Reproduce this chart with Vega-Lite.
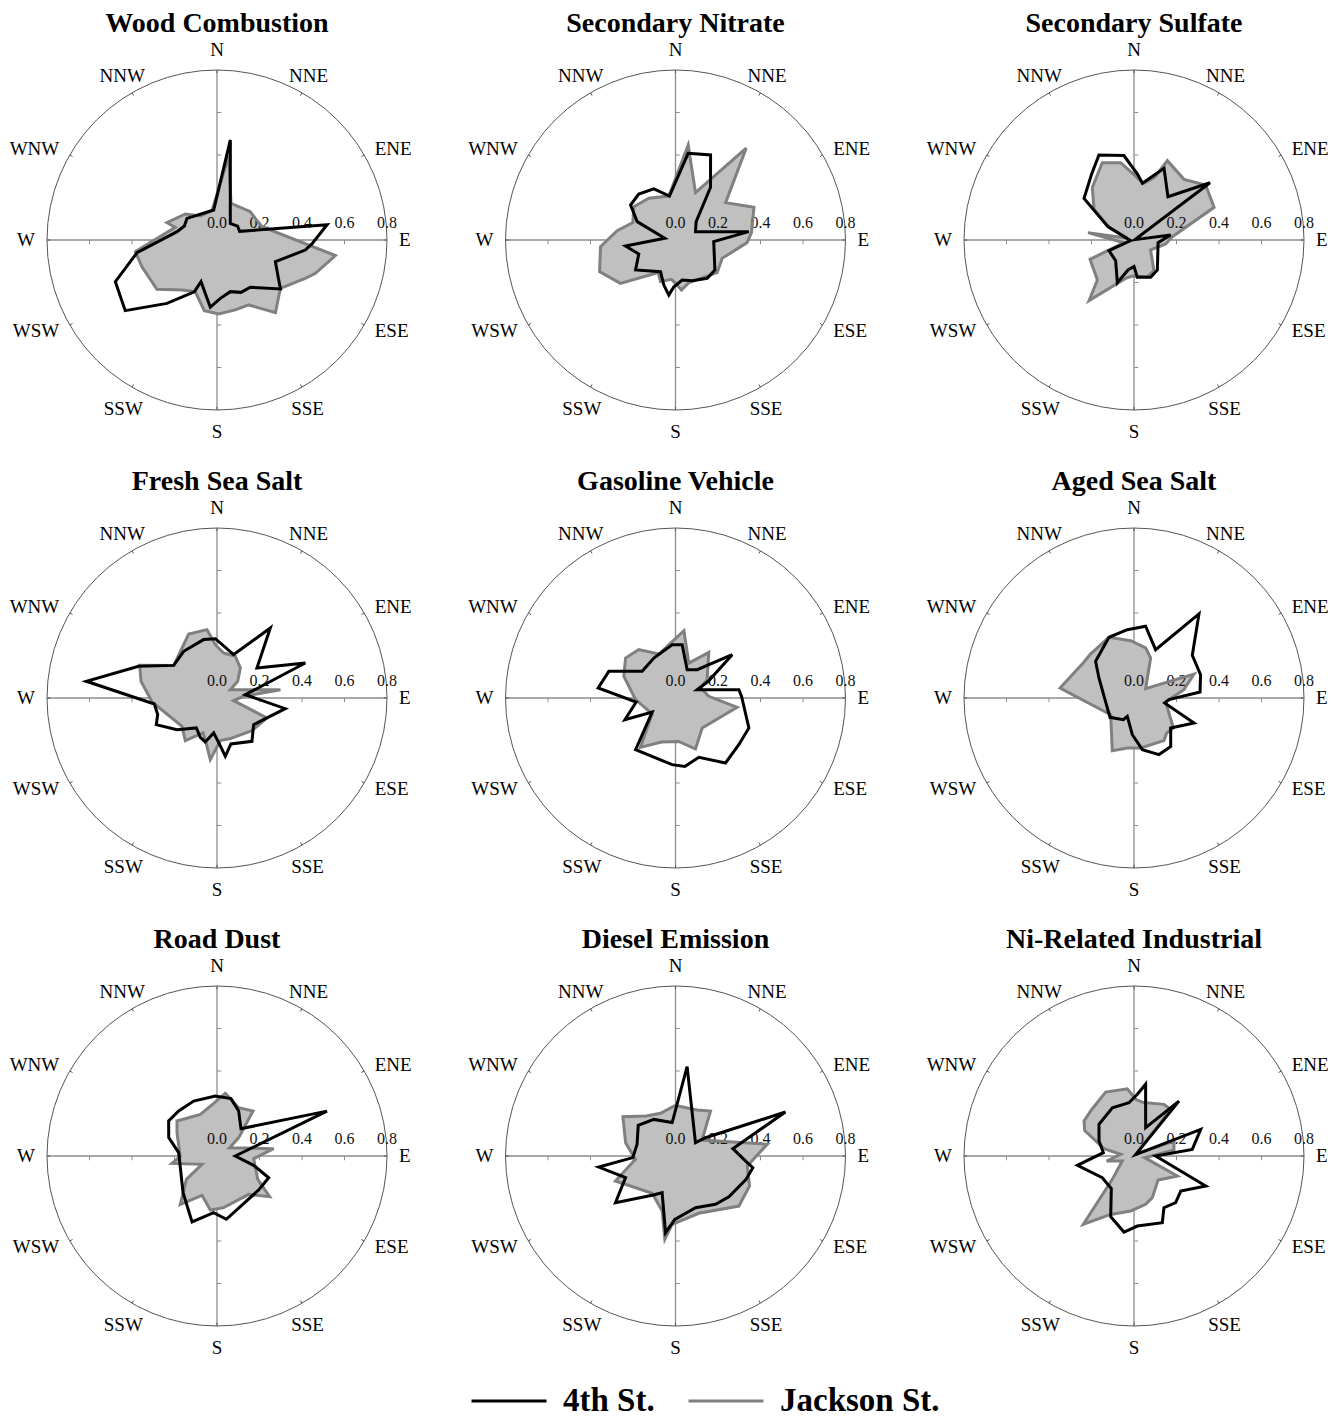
{
"$schema":"https://vega.github.io/schema/vega-lite/v6.json",
"autosize":{"type":"pad"},
"padding":{"left":9,"top":10,"right":0,"bottom":0},
"bounds":"flush",
"columns":3,
"spacing":{"row":62,"column":62.5},
"config":{"view":{"stroke":null},"title":{"font":"Liberation Serif","fontSize":28,"fontWeight":"bold","color":"#000000","offset":3,"anchor":"middle"}},
"datasets":{
"compass":[{"label":"N","dir":0},{"label":"NNE","dir":30},{"label":"ENE","dir":60},{"label":"E","dir":90},{"label":"ESE","dir":120},{"label":"SSE","dir":150},{"label":"S","dir":180},{"label":"SSW","dir":210},{"label":"WSW","dir":240},{"label":"W","dir":270},{"label":"WNW","dir":300},{"label":"NNW","dir":330}],
"ticks":[{"r":-0.6},{"r":-0.4},{"r":-0.2},{"r":0.2},{"r":0.4},{"r":0.6}],
"rings":[{"t":"0.0","r":0},{"t":"0.2","r":0.2},{"t":"0.4","r":0.4},{"t":"0.6","r":0.6},{"t":"0.8","r":0.8}],
"rose":[
{"source":"Wood Combustion","site":"4th St.","dir":7.6,"value":0.475},{"source":"Wood Combustion","site":"4th St.","dir":38.7,"value":0.1},{"source":"Wood Combustion","site":"4th St.","dir":55.9,"value":0.117},{"source":"Wood Combustion","site":"4th St.","dir":69.1,"value":0.114},{"source":"Wood Combustion","site":"4th St.","dir":78,"value":0.241},{"source":"Wood Combustion","site":"4th St.","dir":82.1,"value":0.523},{"source":"Wood Combustion","site":"4th St.","dir":92.4,"value":0.447},{"source":"Wood Combustion","site":"4th St.","dir":96.5,"value":0.418},{"source":"Wood Combustion","site":"4th St.","dir":110.4,"value":0.293},{"source":"Wood Combustion","site":"4th St.","dir":127.7,"value":0.377},{"source":"Wood Combustion","site":"4th St.","dir":144.8,"value":0.272},{"source":"Wood Combustion","site":"4th St.","dir":155.4,"value":0.271},{"source":"Wood Combustion","site":"4th St.","dir":165.5,"value":0.251},{"source":"Wood Combustion","site":"4th St.","dir":176.7,"value":0.275},{"source":"Wood Combustion","site":"4th St.","dir":185.7,"value":0.318},{"source":"Wood Combustion","site":"4th St.","dir":201,"value":0.21},{"source":"Wood Combustion","site":"4th St.","dir":203.7,"value":0.266},{"source":"Wood Combustion","site":"4th St.","dir":218.3,"value":0.38},{"source":"Wood Combustion","site":"4th St.","dir":232.4,"value":0.545},{"source":"Wood Combustion","site":"4th St.","dir":247.7,"value":0.517},{"source":"Wood Combustion","site":"4th St.","dir":261,"value":0.381},{"source":"Wood Combustion","site":"4th St.","dir":281.8,"value":0.192},{"source":"Wood Combustion","site":"4th St.","dir":293.2,"value":0.167},{"source":"Wood Combustion","site":"4th St.","dir":305.8,"value":0.174},{"source":"Wood Combustion","site":"4th St.","dir":353.7,"value":0.142},
{"source":"Wood Combustion","site":"Jackson St.","dir":7.9,"value":0.4},{"source":"Wood Combustion","site":"Jackson St.","dir":20.9,"value":0.185},{"source":"Wood Combustion","site":"Jackson St.","dir":49.6,"value":0.206},{"source":"Wood Combustion","site":"Jackson St.","dir":60.5,"value":0.207},{"source":"Wood Combustion","site":"Jackson St.","dir":73.5,"value":0.221},{"source":"Wood Combustion","site":"Jackson St.","dir":97.5,"value":0.562},{"source":"Wood Combustion","site":"Jackson St.","dir":108.7,"value":0.489},{"source":"Wood Combustion","site":"Jackson St.","dir":113.5,"value":0.453},{"source":"Wood Combustion","site":"Jackson St.","dir":127.3,"value":0.375},{"source":"Wood Combustion","site":"Jackson St.","dir":141.2,"value":0.439},{"source":"Wood Combustion","site":"Jackson St.","dir":154,"value":0.34},{"source":"Wood Combustion","site":"Jackson St.","dir":165.3,"value":0.34},{"source":"Wood Combustion","site":"Jackson St.","dir":178.7,"value":0.348},{"source":"Wood Combustion","site":"Jackson St.","dir":190.2,"value":0.338},{"source":"Wood Combustion","site":"Jackson St.","dir":202.8,"value":0.264},{"source":"Wood Combustion","site":"Jackson St.","dir":215,"value":0.287},{"source":"Wood Combustion","site":"Jackson St.","dir":230.6,"value":0.366},{"source":"Wood Combustion","site":"Jackson St.","dir":250.4,"value":0.375},{"source":"Wood Combustion","site":"Jackson St.","dir":261.9,"value":0.388},{"source":"Wood Combustion","site":"Jackson St.","dir":286.9,"value":0.205},{"source":"Wood Combustion","site":"Jackson St.","dir":289.1,"value":0.249},{"source":"Wood Combustion","site":"Jackson St.","dir":309.4,"value":0.193},{"source":"Wood Combustion","site":"Jackson St.","dir":325.2,"value":0.138},{"source":"Wood Combustion","site":"Jackson St.","dir":350.3,"value":0.14},
{"source":"Secondary Nitrate","site":"4th St.","dir":8.3,"value":0.412},{"source":"Secondary Nitrate","site":"4th St.","dir":22.4,"value":0.433},{"source":"Secondary Nitrate","site":"4th St.","dir":33.6,"value":0.298},{"source":"Secondary Nitrate","site":"4th St.","dir":48.4,"value":0.13},{"source":"Secondary Nitrate","site":"4th St.","dir":67.4,"value":0.102},{"source":"Secondary Nitrate","site":"4th St.","dir":83.5,"value":0.347},{"source":"Secondary Nitrate","site":"4th St.","dir":92.5,"value":0.18},{"source":"Secondary Nitrate","site":"4th St.","dir":127.3,"value":0.233},{"source":"Secondary Nitrate","site":"4th St.","dir":140.4,"value":0.234},{"source":"Secondary Nitrate","site":"4th St.","dir":157.7,"value":0.207},{"source":"Secondary Nitrate","site":"4th St.","dir":170.5,"value":0.191},{"source":"Secondary Nitrate","site":"4th St.","dir":182,"value":0.22},{"source":"Secondary Nitrate","site":"4th St.","dir":186.9,"value":0.261},{"source":"Secondary Nitrate","site":"4th St.","dir":194.5,"value":0.219},{"source":"Secondary Nitrate","site":"4th St.","dir":205.3,"value":0.165},{"source":"Secondary Nitrate","site":"4th St.","dir":233.1,"value":0.235},{"source":"Secondary Nitrate","site":"4th St.","dir":249.1,"value":0.185},{"source":"Secondary Nitrate","site":"4th St.","dir":263.2,"value":0.237},{"source":"Secondary Nitrate","site":"4th St.","dir":278.9,"value":0.051},{"source":"Secondary Nitrate","site":"4th St.","dir":295.6,"value":0.2},{"source":"Secondary Nitrate","site":"4th St.","dir":307.9,"value":0.268},{"source":"Secondary Nitrate","site":"4th St.","dir":321.4,"value":0.277},{"source":"Secondary Nitrate","site":"4th St.","dir":337,"value":0.261},{"source":"Secondary Nitrate","site":"4th St.","dir":352.2,"value":0.209},
{"source":"Secondary Nitrate","site":"Jackson St.","dir":7.6,"value":0.451},{"source":"Secondary Nitrate","site":"Jackson St.","dir":22.9,"value":0.242},{"source":"Secondary Nitrate","site":"Jackson St.","dir":37.6,"value":0.545},{"source":"Secondary Nitrate","site":"Jackson St.","dir":53.3,"value":0.294},{"source":"Secondary Nitrate","site":"Jackson St.","dir":67.4,"value":0.4},{"source":"Secondary Nitrate","site":"Jackson St.","dir":84.5,"value":0.359},{"source":"Secondary Nitrate","site":"Jackson St.","dir":92.1,"value":0.337},{"source":"Secondary Nitrate","site":"Jackson St.","dir":111.4,"value":0.236},{"source":"Secondary Nitrate","site":"Jackson St.","dir":128.1,"value":0.249},{"source":"Secondary Nitrate","site":"Jackson St.","dir":162.6,"value":0.21},{"source":"Secondary Nitrate","site":"Jackson St.","dir":173.2,"value":0.237},{"source":"Secondary Nitrate","site":"Jackson St.","dir":180,"value":0.204},{"source":"Secondary Nitrate","site":"Jackson St.","dir":185.8,"value":0.186},{"source":"Secondary Nitrate","site":"Jackson St.","dir":199.8,"value":0.208},{"source":"Secondary Nitrate","site":"Jackson St.","dir":207.9,"value":0.174},{"source":"Secondary Nitrate","site":"Jackson St.","dir":231.8,"value":0.33},{"source":"Secondary Nitrate","site":"Jackson St.","dir":247.4,"value":0.387},{"source":"Secondary Nitrate","site":"Jackson St.","dir":265,"value":0.354},{"source":"Secondary Nitrate","site":"Jackson St.","dir":279.1,"value":0.278},{"source":"Secondary Nitrate","site":"Jackson St.","dir":292.1,"value":0.217},{"source":"Secondary Nitrate","site":"Jackson St.","dir":308.7,"value":0.251},{"source":"Secondary Nitrate","site":"Jackson St.","dir":327.4,"value":0.233},{"source":"Secondary Nitrate","site":"Jackson St.","dir":351.4,"value":0.209},
{"source":"Secondary Sulfate","site":"4th St.","dir":3.5,"value":0.307},{"source":"Secondary Sulfate","site":"4th St.","dir":8.4,"value":0.27},{"source":"Secondary Sulfate","site":"4th St.","dir":22.7,"value":0.366},{"source":"Secondary Sulfate","site":"4th St.","dir":38.1,"value":0.259},{"source":"Secondary Sulfate","site":"4th St.","dir":53,"value":0.448},{"source":"Secondary Sulfate","site":"4th St.","dir":70,"value":0.005},{"source":"Secondary Sulfate","site":"4th St.","dir":82.2,"value":0.174},{"source":"Secondary Sulfate","site":"4th St.","dir":96.3,"value":0.114},{"source":"Secondary Sulfate","site":"4th St.","dir":142.1,"value":0.179},{"source":"Secondary Sulfate","site":"4th St.","dir":155.9,"value":0.192},{"source":"Secondary Sulfate","site":"4th St.","dir":174.9,"value":0.176},{"source":"Secondary Sulfate","site":"4th St.","dir":180,"value":0.125},{"source":"Secondary Sulfate","site":"4th St.","dir":191.3,"value":0.144},{"source":"Secondary Sulfate","site":"4th St.","dir":201.3,"value":0.216},{"source":"Secondary Sulfate","site":"4th St.","dir":221.6,"value":0.13},{"source":"Secondary Sulfate","site":"4th St.","dir":246.9,"value":0.128},{"source":"Secondary Sulfate","site":"4th St.","dir":259,"value":0.016},{"source":"Secondary Sulfate","site":"4th St.","dir":297.1,"value":0.138},{"source":"Secondary Sulfate","site":"4th St.","dir":309.8,"value":0.306},{"source":"Secondary Sulfate","site":"4th St.","dir":326.7,"value":0.366},{"source":"Secondary Sulfate","site":"4th St.","dir":337.6,"value":0.433},{"source":"Secondary Sulfate","site":"4th St.","dir":353.2,"value":0.4},
{"source":"Secondary Sulfate","site":"Jackson St.","dir":1.5,"value":0.301},{"source":"Secondary Sulfate","site":"Jackson St.","dir":9.4,"value":0.27},{"source":"Secondary Sulfate","site":"Jackson St.","dir":18.3,"value":0.311},{"source":"Secondary Sulfate","site":"Jackson St.","dir":22.8,"value":0.405},{"source":"Secondary Sulfate","site":"Jackson St.","dir":39.5,"value":0.37},{"source":"Secondary Sulfate","site":"Jackson St.","dir":52.5,"value":0.425},{"source":"Secondary Sulfate","site":"Jackson St.","dir":67.8,"value":0.407},{"source":"Secondary Sulfate","site":"Jackson St.","dir":85,"value":0.181},{"source":"Secondary Sulfate","site":"Jackson St.","dir":97.2,"value":0.15},{"source":"Secondary Sulfate","site":"Jackson St.","dir":121,"value":0.091},{"source":"Secondary Sulfate","site":"Jackson St.","dir":146.9,"value":0.172},{"source":"Secondary Sulfate","site":"Jackson St.","dir":160,"value":0.184},{"source":"Secondary Sulfate","site":"Jackson St.","dir":182.7,"value":0.17},{"source":"Secondary Sulfate","site":"Jackson St.","dir":192.3,"value":0.185},{"source":"Secondary Sulfate","site":"Jackson St.","dir":216.6,"value":0.355},{"source":"Secondary Sulfate","site":"Jackson St.","dir":222.5,"value":0.255},{"source":"Secondary Sulfate","site":"Jackson St.","dir":246.3,"value":0.226},{"source":"Secondary Sulfate","site":"Jackson St.","dir":255,"value":0.049},{"source":"Secondary Sulfate","site":"Jackson St.","dir":279.1,"value":0.219},{"source":"Secondary Sulfate","site":"Jackson St.","dir":284,"value":0.032},{"source":"Secondary Sulfate","site":"Jackson St.","dir":296.9,"value":0.132},{"source":"Secondary Sulfate","site":"Jackson St.","dir":307.5,"value":0.237},{"source":"Secondary Sulfate","site":"Jackson St.","dir":321.6,"value":0.316},{"source":"Secondary Sulfate","site":"Jackson St.","dir":337.7,"value":0.393},{"source":"Secondary Sulfate","site":"Jackson St.","dir":350.2,"value":0.369},
{"source":"Fresh Sea Salt","site":"4th St.","dir":21,"value":0.219},{"source":"Fresh Sea Salt","site":"4th St.","dir":37.3,"value":0.414},{"source":"Fresh Sea Salt","site":"4th St.","dir":53.1,"value":0.235},{"source":"Fresh Sea Salt","site":"4th St.","dir":68.4,"value":0.447},{"source":"Fresh Sea Salt","site":"4th St.","dir":83.3,"value":0.134},{"source":"Fresh Sea Salt","site":"4th St.","dir":98.9,"value":0.325},{"source":"Fresh Sea Salt","site":"4th St.","dir":126,"value":0.213},{"source":"Fresh Sea Salt","site":"4th St.","dir":141.1,"value":0.262},{"source":"Fresh Sea Salt","site":"4th St.","dir":163.1,"value":0.226},{"source":"Fresh Sea Salt","site":"4th St.","dir":171.9,"value":0.277},{"source":"Fresh Sea Salt","site":"4th St.","dir":176.7,"value":0.22},{"source":"Fresh Sea Salt","site":"4th St.","dir":185.4,"value":0.165},{"source":"Fresh Sea Salt","site":"4th St.","dir":194.9,"value":0.214},{"source":"Fresh Sea Salt","site":"4th St.","dir":203,"value":0.201},{"source":"Fresh Sea Salt","site":"4th St.","dir":214.6,"value":0.171},{"source":"Fresh Sea Salt","site":"4th St.","dir":231.6,"value":0.24},{"source":"Fresh Sea Salt","site":"4th St.","dir":246.3,"value":0.312},{"source":"Fresh Sea Salt","site":"4th St.","dir":254.3,"value":0.29},{"source":"Fresh Sea Salt","site":"4th St.","dir":264.5,"value":0.296},{"source":"Fresh Sea Salt","site":"4th St.","dir":277.3,"value":0.62},{"source":"Fresh Sea Salt","site":"4th St.","dir":292,"value":0.398},{"source":"Fresh Sea Salt","site":"4th St.","dir":307,"value":0.255},{"source":"Fresh Sea Salt","site":"4th St.","dir":324.5,"value":0.27},{"source":"Fresh Sea Salt","site":"4th St.","dir":347.1,"value":0.282},{"source":"Fresh Sea Salt","site":"4th St.","dir":358.4,"value":0.279},
{"source":"Fresh Sea Salt","site":"Jackson St.","dir":8.4,"value":0.214},{"source":"Fresh Sea Salt","site":"Jackson St.","dir":23.7,"value":0.214},{"source":"Fresh Sea Salt","site":"Jackson St.","dir":37.9,"value":0.179},{"source":"Fresh Sea Salt","site":"Jackson St.","dir":51.1,"value":0.125},{"source":"Fresh Sea Salt","site":"Jackson St.","dir":58,"value":0.074},{"source":"Fresh Sea Salt","site":"Jackson St.","dir":82.5,"value":0.301},{"source":"Fresh Sea Salt","site":"Jackson St.","dir":86.4,"value":0.126},{"source":"Fresh Sea Salt","site":"Jackson St.","dir":99.1,"value":0.079},{"source":"Fresh Sea Salt","site":"Jackson St.","dir":111.8,"value":0.253},{"source":"Fresh Sea Salt","site":"Jackson St.","dir":133,"value":0.225},{"source":"Fresh Sea Salt","site":"Jackson St.","dir":161.8,"value":0.201},{"source":"Fresh Sea Salt","site":"Jackson St.","dir":175.5,"value":0.201},{"source":"Fresh Sea Salt","site":"Jackson St.","dir":186.2,"value":0.292},{"source":"Fresh Sea Salt","site":"Jackson St.","dir":193.1,"value":0.222},{"source":"Fresh Sea Salt","site":"Jackson St.","dir":201.8,"value":0.177},{"source":"Fresh Sea Salt","site":"Jackson St.","dir":216.6,"value":0.25},{"source":"Fresh Sea Salt","site":"Jackson St.","dir":231,"value":0.212},{"source":"Fresh Sea Salt","site":"Jackson St.","dir":266.5,"value":0.306},{"source":"Fresh Sea Salt","site":"Jackson St.","dir":282.4,"value":0.366},{"source":"Fresh Sea Salt","site":"Jackson St.","dir":292.9,"value":0.395},{"source":"Fresh Sea Salt","site":"Jackson St.","dir":307,"value":0.255},{"source":"Fresh Sea Salt","site":"Jackson St.","dir":336.1,"value":0.329},{"source":"Fresh Sea Salt","site":"Jackson St.","dir":351.7,"value":0.325},{"source":"Fresh Sea Salt","site":"Jackson St.","dir":358.2,"value":0.251},
{"source":"Gasoline Vehicle","site":"4th St.","dir":7.1,"value":0.253},{"source":"Gasoline Vehicle","site":"4th St.","dir":22.4,"value":0.144},{"source":"Gasoline Vehicle","site":"4th St.","dir":37.4,"value":0.168},{"source":"Gasoline Vehicle","site":"4th St.","dir":52.6,"value":0.336},{"source":"Gasoline Vehicle","site":"4th St.","dir":63,"value":0.173},{"source":"Gasoline Vehicle","site":"4th St.","dir":69,"value":0.109},{"source":"Gasoline Vehicle","site":"4th St.","dir":82.5,"value":0.301},{"source":"Gasoline Vehicle","site":"4th St.","dir":88.6,"value":0.311},{"source":"Gasoline Vehicle","site":"4th St.","dir":112.2,"value":0.373},{"source":"Gasoline Vehicle","site":"4th St.","dir":126.4,"value":0.37},{"source":"Gasoline Vehicle","site":"4th St.","dir":142.4,"value":0.386},{"source":"Gasoline Vehicle","site":"4th St.","dir":158.5,"value":0.3},{"source":"Gasoline Vehicle","site":"4th St.","dir":172.2,"value":0.325},{"source":"Gasoline Vehicle","site":"4th St.","dir":182.9,"value":0.314},{"source":"Gasoline Vehicle","site":"4th St.","dir":217.7,"value":0.307},{"source":"Gasoline Vehicle","site":"4th St.","dir":239,"value":0.128},{"source":"Gasoline Vehicle","site":"4th St.","dir":246.8,"value":0.259},{"source":"Gasoline Vehicle","site":"4th St.","dir":264.2,"value":0.186},{"source":"Gasoline Vehicle","site":"4th St.","dir":277.4,"value":0.367},{"source":"Gasoline Vehicle","site":"4th St.","dir":291.8,"value":0.338},{"source":"Gasoline Vehicle","site":"4th St.","dir":308.7,"value":0.201},{"source":"Gasoline Vehicle","site":"4th St.","dir":331.6,"value":0.214},{"source":"Gasoline Vehicle","site":"4th St.","dir":356.4,"value":0.251},
{"source":"Gasoline Vehicle","site":"Jackson St.","dir":7.1,"value":0.319},{"source":"Gasoline Vehicle","site":"Jackson St.","dir":20.9,"value":0.176},{"source":"Gasoline Vehicle","site":"Jackson St.","dir":36.1,"value":0.266},{"source":"Gasoline Vehicle","site":"Jackson St.","dir":59.9,"value":0.172},{"source":"Gasoline Vehicle","site":"Jackson St.","dir":68.2,"value":0.127},{"source":"Gasoline Vehicle","site":"Jackson St.","dir":87.1,"value":0.157},{"source":"Gasoline Vehicle","site":"Jackson St.","dir":98.6,"value":0.293},{"source":"Gasoline Vehicle","site":"Jackson St.","dir":138.4,"value":0.189},{"source":"Gasoline Vehicle","site":"Jackson St.","dir":158.6,"value":0.258},{"source":"Gasoline Vehicle","site":"Jackson St.","dir":175.6,"value":0.205},{"source":"Gasoline Vehicle","site":"Jackson St.","dir":197.7,"value":0.217},{"source":"Gasoline Vehicle","site":"Jackson St.","dir":215.4,"value":0.285},{"source":"Gasoline Vehicle","site":"Jackson St.","dir":235.6,"value":0.133},{"source":"Gasoline Vehicle","site":"Jackson St.","dir":267.6,"value":0.188},{"source":"Gasoline Vehicle","site":"Jackson St.","dir":292.8,"value":0.264},{"source":"Gasoline Vehicle","site":"Jackson St.","dir":308.7,"value":0.301},{"source":"Gasoline Vehicle","site":"Jackson St.","dir":322.8,"value":0.286},{"source":"Gasoline Vehicle","site":"Jackson St.","dir":339.3,"value":0.221},
{"source":"Aged Sea Salt","site":"4th St.","dir":9.2,"value":0.342},{"source":"Aged Sea Salt","site":"4th St.","dir":24.1,"value":0.249},{"source":"Aged Sea Salt","site":"4th St.","dir":37.7,"value":0.5},{"source":"Aged Sea Salt","site":"4th St.","dir":53.8,"value":0.34},{"source":"Aged Sea Salt","site":"4th St.","dir":70.7,"value":0.332},{"source":"Aged Sea Salt","site":"4th St.","dir":84.8,"value":0.312},{"source":"Aged Sea Salt","site":"4th St.","dir":92.7,"value":0.165},{"source":"Aged Sea Salt","site":"4th St.","dir":99.3,"value":0.146},{"source":"Aged Sea Salt","site":"4th St.","dir":112.6,"value":0.306},{"source":"Aged Sea Salt","site":"4th St.","dir":129.3,"value":0.223},{"source":"Aged Sea Salt","site":"4th St.","dir":142.8,"value":0.286},{"source":"Aged Sea Salt","site":"4th St.","dir":156.2,"value":0.291},{"source":"Aged Sea Salt","site":"4th St.","dir":170.8,"value":0.246},{"source":"Aged Sea Salt","site":"4th St.","dir":182.6,"value":0.173},{"source":"Aged Sea Salt","site":"4th St.","dir":200,"value":0.092},{"source":"Aged Sea Salt","site":"4th St.","dir":206.2,"value":0.114},{"source":"Aged Sea Salt","site":"4th St.","dir":231.1,"value":0.145},{"source":"Aged Sea Salt","site":"4th St.","dir":273.2,"value":0.141},{"source":"Aged Sea Salt","site":"4th St.","dir":299.7,"value":0.19},{"source":"Aged Sea Salt","site":"4th St.","dir":313.7,"value":0.25},{"source":"Aged Sea Salt","site":"4th St.","dir":337.6,"value":0.309},{"source":"Aged Sea Salt","site":"4th St.","dir":354.4,"value":0.323},
{"source":"Aged Sea Salt","site":"Jackson St.","dir":13.1,"value":0.242},{"source":"Aged Sea Salt","site":"Jackson St.","dir":22.6,"value":0.204},{"source":"Aged Sea Salt","site":"Jackson St.","dir":51.3,"value":0.07},{"source":"Aged Sea Salt","site":"Jackson St.","dir":68.2,"value":0.304},{"source":"Aged Sea Salt","site":"Jackson St.","dir":80.5,"value":0.238},{"source":"Aged Sea Salt","site":"Jackson St.","dir":97.2,"value":0.15},{"source":"Aged Sea Salt","site":"Jackson St.","dir":127.3,"value":0.233},{"source":"Aged Sea Salt","site":"Jackson St.","dir":137,"value":0.225},{"source":"Aged Sea Salt","site":"Jackson St.","dir":144.9,"value":0.245},{"source":"Aged Sea Salt","site":"Jackson St.","dir":172.4,"value":0.237},{"source":"Aged Sea Salt","site":"Jackson St.","dir":187.6,"value":0.237},{"source":"Aged Sea Salt","site":"Jackson St.","dir":202.4,"value":0.268},{"source":"Aged Sea Salt","site":"Jackson St.","dir":234.5,"value":0.135},{"source":"Aged Sea Salt","site":"Jackson St.","dir":277.7,"value":0.351},{"source":"Aged Sea Salt","site":"Jackson St.","dir":305.8,"value":0.29},{"source":"Aged Sea Salt","site":"Jackson St.","dir":314.6,"value":0.291},{"source":"Aged Sea Salt","site":"Jackson St.","dir":337.6,"value":0.309},{"source":"Aged Sea Salt","site":"Jackson St.","dir":356.7,"value":0.27},
{"source":"Road Dust","site":"4th St.","dir":13.7,"value":0.278},{"source":"Road Dust","site":"4th St.","dir":25.7,"value":0.235},{"source":"Road Dust","site":"4th St.","dir":41.3,"value":0.171},{"source":"Road Dust","site":"4th St.","dir":67.8,"value":0.559},{"source":"Road Dust","site":"4th St.","dir":90,"value":0.086},{"source":"Road Dust","site":"4th St.","dir":104.3,"value":0.178},{"source":"Road Dust","site":"4th St.","dir":112.8,"value":0.264},{"source":"Road Dust","site":"4th St.","dir":129.2,"value":0.253},{"source":"Road Dust","site":"4th St.","dir":171.6,"value":0.301},{"source":"Road Dust","site":"4th St.","dir":183.4,"value":0.267},{"source":"Road Dust","site":"4th St.","dir":200.7,"value":0.332},{"source":"Road Dust","site":"4th St.","dir":222.8,"value":0.235},{"source":"Road Dust","site":"4th St.","dir":252.4,"value":0.181},{"source":"Road Dust","site":"4th St.","dir":275,"value":0.181},{"source":"Road Dust","site":"4th St.","dir":290.8,"value":0.243},{"source":"Road Dust","site":"4th St.","dir":305.9,"value":0.281},{"source":"Road Dust","site":"4th St.","dir":319.6,"value":0.278},{"source":"Road Dust","site":"4th St.","dir":337,"value":0.281},{"source":"Road Dust","site":"4th St.","dir":358.4,"value":0.282},
{"source":"Road Dust","site":"Jackson St.","dir":7.6,"value":0.298},{"source":"Road Dust","site":"Jackson St.","dir":24.1,"value":0.249},{"source":"Road Dust","site":"Jackson St.","dir":38.7,"value":0.271},{"source":"Road Dust","site":"Jackson St.","dir":49.8,"value":0.134},{"source":"Road Dust","site":"Jackson St.","dir":56.7,"value":0.071},{"source":"Road Dust","site":"Jackson St.","dir":82.6,"value":0.269},{"source":"Road Dust","site":"Jackson St.","dir":94.2,"value":0.173},{"source":"Road Dust","site":"Jackson St.","dir":119.8,"value":0.221},{"source":"Road Dust","site":"Jackson St.","dir":127.7,"value":0.313},{"source":"Road Dust","site":"Jackson St.","dir":140.4,"value":0.234},{"source":"Road Dust","site":"Jackson St.","dir":172.6,"value":0.245},{"source":"Road Dust","site":"Jackson St.","dir":187,"value":0.256},{"source":"Road Dust","site":"Jackson St.","dir":200.9,"value":0.198},{"source":"Road Dust","site":"Jackson St.","dir":217.2,"value":0.286},{"source":"Road Dust","site":"Jackson St.","dir":232.7,"value":0.181},{"source":"Road Dust","site":"Jackson St.","dir":240.9,"value":0.081},{"source":"Road Dust","site":"Jackson St.","dir":260.7,"value":0.215},{"source":"Road Dust","site":"Jackson St.","dir":269,"value":0.173},{"source":"Road Dust","site":"Jackson St.","dir":300.3,"value":0.218},{"source":"Road Dust","site":"Jackson St.","dir":311.2,"value":0.25},{"source":"Road Dust","site":"Jackson St.","dir":338.2,"value":0.211},{"source":"Road Dust","site":"Jackson St.","dir":356.4,"value":0.248},
{"source":"Diesel Emission","site":"4th St.","dir":7.4,"value":0.424},{"source":"Diesel Emission","site":"4th St.","dir":56.3,"value":0.113},{"source":"Diesel Emission","site":"4th St.","dir":58.6,"value":0.165},{"source":"Diesel Emission","site":"4th St.","dir":68.2,"value":0.557},{"source":"Diesel Emission","site":"4th St.","dir":82.7,"value":0.272},{"source":"Diesel Emission","site":"4th St.","dir":95.3,"value":0.339},{"source":"Diesel Emission","site":"4th St.","dir":98.6,"value":0.368},{"source":"Diesel Emission","site":"4th St.","dir":108.3,"value":0.35},{"source":"Diesel Emission","site":"4th St.","dir":127.3,"value":0.316},{"source":"Diesel Emission","site":"4th St.","dir":140.4,"value":0.295},{"source":"Diesel Emission","site":"4th St.","dir":158.8,"value":0.261},{"source":"Diesel Emission","site":"4th St.","dir":180.6,"value":0.298},{"source":"Diesel Emission","site":"4th St.","dir":187.4,"value":0.364},{"source":"Diesel Emission","site":"4th St.","dir":200,"value":0.184},{"source":"Diesel Emission","site":"4th St.","dir":210.7,"value":0.215},{"source":"Diesel Emission","site":"4th St.","dir":232.1,"value":0.358},{"source":"Diesel Emission","site":"4th St.","dir":246.6,"value":0.256},{"source":"Diesel Emission","site":"4th St.","dir":261.8,"value":0.365},{"source":"Diesel Emission","site":"4th St.","dir":267.8,"value":0.201},{"source":"Diesel Emission","site":"4th St.","dir":286.9,"value":0.189},{"source":"Diesel Emission","site":"4th St.","dir":309.4,"value":0.227},{"source":"Diesel Emission","site":"4th St.","dir":329.4,"value":0.2},{"source":"Diesel Emission","site":"4th St.","dir":354.3,"value":0.158},
{"source":"Diesel Emission","site":"Jackson St.","dir":0,"value":0.238},{"source":"Diesel Emission","site":"Jackson St.","dir":25.2,"value":0.239},{"source":"Diesel Emission","site":"Jackson St.","dir":37.9,"value":0.268},{"source":"Diesel Emission","site":"Jackson St.","dir":59,"value":0.146},{"source":"Diesel Emission","site":"Jackson St.","dir":82.7,"value":0.435},{"source":"Diesel Emission","site":"Jackson St.","dir":97.9,"value":0.341},{"source":"Diesel Emission","site":"Jackson St.","dir":112.1,"value":0.376},{"source":"Diesel Emission","site":"Jackson St.","dir":128.3,"value":0.38},{"source":"Diesel Emission","site":"Jackson St.","dir":157.9,"value":0.291},{"source":"Diesel Emission","site":"Jackson St.","dir":182.8,"value":0.322},{"source":"Diesel Emission","site":"Jackson St.","dir":187.3,"value":0.395},{"source":"Diesel Emission","site":"Jackson St.","dir":193.6,"value":0.266},{"source":"Diesel Emission","site":"Jackson St.","dir":212,"value":0.207},{"source":"Diesel Emission","site":"Jackson St.","dir":247.4,"value":0.306},{"source":"Diesel Emission","site":"Jackson St.","dir":265.2,"value":0.189},{"source":"Diesel Emission","site":"Jackson St.","dir":284.9,"value":0.243},{"source":"Diesel Emission","site":"Jackson St.","dir":306.8,"value":0.309},{"source":"Diesel Emission","site":"Jackson St.","dir":323.7,"value":0.233},{"source":"Diesel Emission","site":"Jackson St.","dir":340.6,"value":0.213},
{"source":"Ni-Related Industrial","site":"4th St.","dir":3.1,"value":0.291},{"source":"Ni-Related Industrial","site":"4th St.","dir":9.2,"value":0.342},{"source":"Ni-Related Industrial","site":"4th St.","dir":22.4,"value":0.144},{"source":"Ni-Related Industrial","site":"4th St.","dir":39.3,"value":0.334},{"source":"Ni-Related Industrial","site":"4th St.","dir":50,"value":0.01},{"source":"Ni-Related Industrial","site":"4th St.","dir":68.2,"value":0.338},{"source":"Ni-Related Industrial","site":"4th St.","dir":83.5,"value":0.276},{"source":"Ni-Related Industrial","site":"4th St.","dir":90,"value":0.102},{"source":"Ni-Related Industrial","site":"4th St.","dir":112.7,"value":0.366},{"source":"Ni-Related Industrial","site":"4th St.","dir":126.9,"value":0.275},{"source":"Ni-Related Industrial","site":"4th St.","dir":138.2,"value":0.294},{"source":"Ni-Related Industrial","site":"4th St.","dir":149.9,"value":0.281},{"source":"Ni-Related Industrial","site":"4th St.","dir":157,"value":0.341},{"source":"Ni-Related Industrial","site":"4th St.","dir":177.3,"value":0.33},{"source":"Ni-Related Industrial","site":"4th St.","dir":187.5,"value":0.361},{"source":"Ni-Related Industrial","site":"4th St.","dir":201,"value":0.306},{"source":"Ni-Related Industrial","site":"4th St.","dir":214.8,"value":0.187},{"source":"Ni-Related Industrial","site":"4th St.","dir":235.6,"value":0.181},{"source":"Ni-Related Industrial","site":"4th St.","dir":260.6,"value":0.27},{"source":"Ni-Related Industrial","site":"4th St.","dir":276.2,"value":0.145},{"source":"Ni-Related Industrial","site":"4th St.","dir":293.2,"value":0.179},{"source":"Ni-Related Industrial","site":"4th St.","dir":312.1,"value":0.222},{"source":"Ni-Related Industrial","site":"4th St.","dir":335.9,"value":0.249},{"source":"Ni-Related Industrial","site":"4th St.","dir":354.6,"value":0.252},
{"source":"Ni-Related Industrial","site":"Jackson St.","dir":1.7,"value":0.267},{"source":"Ni-Related Industrial","site":"Jackson St.","dir":9.9,"value":0.255},{"source":"Ni-Related Industrial","site":"Jackson St.","dir":30.1,"value":0.281},{"source":"Ni-Related Industrial","site":"Jackson St.","dir":38.2,"value":0.279},{"source":"Ni-Related Industrial","site":"Jackson St.","dir":50,"value":0.015},{"source":"Ni-Related Industrial","site":"Jackson St.","dir":69.4,"value":0.201},{"source":"Ni-Related Industrial","site":"Jackson St.","dir":81.5,"value":0.19},{"source":"Ni-Related Industrial","site":"Jackson St.","dir":98.9,"value":0.051},{"source":"Ni-Related Industrial","site":"Jackson St.","dir":114.8,"value":0.225},{"source":"Ni-Related Industrial","site":"Jackson St.","dir":135,"value":0.16},{"source":"Ni-Related Industrial","site":"Jackson St.","dir":156.3,"value":0.214},{"source":"Ni-Related Industrial","site":"Jackson St.","dir":166.4,"value":0.234},{"source":"Ni-Related Industrial","site":"Jackson St.","dir":183.5,"value":0.259},{"source":"Ni-Related Industrial","site":"Jackson St.","dir":201.8,"value":0.296},{"source":"Ni-Related Industrial","site":"Jackson St.","dir":216.6,"value":0.4},{"source":"Ni-Related Industrial","site":"Jackson St.","dir":222.9,"value":0.15},{"source":"Ni-Related Industrial","site":"Jackson St.","dir":246.8,"value":0.06},{"source":"Ni-Related Industrial","site":"Jackson St.","dir":259.6,"value":0.131},{"source":"Ni-Related Industrial","site":"Jackson St.","dir":277.1,"value":0.063},{"source":"Ni-Related Industrial","site":"Jackson St.","dir":283.7,"value":0.145},{"source":"Ni-Related Industrial","site":"Jackson St.","dir":297.2,"value":0.261},{"source":"Ni-Related Industrial","site":"Jackson St.","dir":305,"value":0.287},{"source":"Ni-Related Industrial","site":"Jackson St.","dir":317.2,"value":0.295},{"source":"Ni-Related Industrial","site":"Jackson St.","dir":336.1,"value":0.329},{"source":"Ni-Related Industrial","site":"Jackson St.","dir":354.3,"value":0.318}
]},
"concat":[
{"title":"Wood Combustion","width":396,"height":396,"layer":[
{"data":{"values":[{"c":0}]},"mark":{"type":"point","shape":"circle","size":115600,"filled":false,"stroke":"#555555","strokeWidth":1,"opacity":1},"encoding":{"x":{"field":"c","type":"quantitative","scale":{"domain":[-0.93176,0.93176],"nice":false,"zero":false},"axis":null},"y":{"field":"c","type":"quantitative","scale":{"domain":[-0.93176,0.93176],"nice":false,"zero":false},"axis":null}}},
{"data":{"values":[{"a":-0.8,"b":0.8,"c":0}]},"mark":{"type":"rule","stroke":"#8c8c8c","strokeWidth":1.3},"encoding":{"x":{"field":"a","type":"quantitative","scale":{"domain":[-0.93176,0.93176],"nice":false,"zero":false},"axis":null},"x2":{"field":"b"},"y":{"field":"c","type":"quantitative","scale":{"domain":[-0.93176,0.93176],"nice":false,"zero":false},"axis":null}}},
{"data":{"values":[{"a":-0.8,"b":0.8,"c":0}]},"mark":{"type":"rule","stroke":"#8c8c8c","strokeWidth":1.3},"encoding":{"y":{"field":"a","type":"quantitative","scale":{"domain":[-0.93176,0.93176],"nice":false,"zero":false},"axis":null},"y2":{"field":"b"},"x":{"field":"c","type":"quantitative","scale":{"domain":[-0.93176,0.93176],"nice":false,"zero":false},"axis":null}}},
{"data":{"name":"ticks"},"mark":{"type":"rule","stroke":"#8c8c8c","strokeWidth":1},"encoding":{"x":{"field":"r","type":"quantitative","scale":{"domain":[-0.93176,0.93176],"nice":false,"zero":false},"axis":null},"y":{"datum":0,"type":"quantitative","scale":{"domain":[-0.93176,0.93176],"nice":false,"zero":false},"axis":null},"y2":{"datum":-0.02}}},
{"data":{"name":"ticks"},"mark":{"type":"rule","stroke":"#8c8c8c","strokeWidth":1},"encoding":{"y":{"field":"r","type":"quantitative","scale":{"domain":[-0.93176,0.93176],"nice":false,"zero":false},"axis":null},"x":{"datum":0,"type":"quantitative","scale":{"domain":[-0.93176,0.93176],"nice":false,"zero":false},"axis":null},"x2":{"datum":0.02}}},
{"data":{"name":"compass"},"transform":[{"calculate":"0.785*sin(datum.dir*PI/180)","as":"xa"},{"calculate":"0.785*cos(datum.dir*PI/180)","as":"ya"},{"calculate":"0.8*sin(datum.dir*PI/180)","as":"xb"},{"calculate":"0.8*cos(datum.dir*PI/180)","as":"yb"}],"mark":{"type":"rule","stroke":"#555555","strokeWidth":1},"encoding":{"x":{"field":"xa","type":"quantitative","scale":{"domain":[-0.93176,0.93176],"nice":false,"zero":false},"axis":null},"y":{"field":"ya","type":"quantitative","scale":{"domain":[-0.93176,0.93176],"nice":false,"zero":false},"axis":null},"x2":{"field":"xb"},"y2":{"field":"yb"}}},
{"data":{"name":"rose"},"transform":[{"filter":"datum.source==='Wood Combustion' && datum.site==='Jackson St.'"},{"calculate":"datum.value*sin(datum.dir*PI/180)","as":"x"},{"calculate":"datum.value*cos(datum.dir*PI/180)","as":"y"}],"mark":{"type":"line","interpolate":"linear-closed","fill":"#c0c0c0","stroke":"#c0c0c0","strokeWidth":0.5},"encoding":{"x":{"field":"x","type":"quantitative","scale":{"domain":[-0.93176,0.93176],"nice":false,"zero":false},"axis":null},"y":{"field":"y","type":"quantitative","scale":{"domain":[-0.93176,0.93176],"nice":false,"zero":false},"axis":null},"order":{"field":"dir","type":"quantitative"}}},
{"data":{"name":"rings"},"mark":{"type":"text","font":"Liberation Serif","fontSize":16,"dy":-12,"baseline":"alphabetic","align":"center","color":"#111111"},"encoding":{"x":{"field":"r","type":"quantitative","scale":{"domain":[-0.93176,0.93176],"nice":false,"zero":false},"axis":null},"y":{"datum":0,"type":"quantitative","scale":{"domain":[-0.93176,0.93176],"nice":false,"zero":false},"axis":null},"text":{"field":"t"}}},
{"data":{"name":"rose"},"transform":[{"filter":"datum.source==='Wood Combustion' && datum.site==='Jackson St.'"},{"calculate":"datum.value*sin(datum.dir*PI/180)","as":"x"},{"calculate":"datum.value*cos(datum.dir*PI/180)","as":"y"}],"mark":{"type":"line","interpolate":"linear-closed","strokeWidth":3},"encoding":{"x":{"field":"x","type":"quantitative","scale":{"domain":[-0.93176,0.93176],"nice":false,"zero":false},"axis":null},"y":{"field":"y","type":"quantitative","scale":{"domain":[-0.93176,0.93176],"nice":false,"zero":false},"axis":null},"order":{"field":"dir","type":"quantitative"},"color":{"field":"site","type":"nominal","title":null,"scale":{"domain":["4th St.","Jackson St."],"range":["#000000","#808080"]},"legend":{"orient":"none","legendX":451,"legendY":1320,"direction":"horizontal","symbolType":"stroke","symbolSize":5625,"symbolStrokeWidth":3,"labelFont":"Liberation Serif","labelFontSize":33,"labelFontWeight":"bold","labelColor":"#000000","labelOffset":15,"columnPadding":27,"padding":0,"labelLimit":400}}}},
{"data":{"name":"rose"},"transform":[{"filter":"datum.source==='Wood Combustion' && datum.site==='4th St.'"},{"calculate":"datum.value*sin(datum.dir*PI/180)","as":"x"},{"calculate":"datum.value*cos(datum.dir*PI/180)","as":"y"}],"mark":{"type":"line","interpolate":"linear-closed","strokeWidth":3},"encoding":{"x":{"field":"x","type":"quantitative","scale":{"domain":[-0.93176,0.93176],"nice":false,"zero":false},"axis":null},"y":{"field":"y","type":"quantitative","scale":{"domain":[-0.93176,0.93176],"nice":false,"zero":false},"axis":null},"order":{"field":"dir","type":"quantitative"},"color":{"field":"site","type":"nominal","title":null,"scale":{"domain":["4th St.","Jackson St."],"range":["#000000","#808080"]},"legend":{"orient":"none","legendX":451,"legendY":1320,"direction":"horizontal","symbolType":"stroke","symbolSize":5625,"symbolStrokeWidth":3,"labelFont":"Liberation Serif","labelFontSize":33,"labelFontWeight":"bold","labelColor":"#000000","labelOffset":15,"columnPadding":27,"padding":0,"labelLimit":400}}}},
{"data":{"name":"compass"},"transform":[{"filter":"datum.dir==0||datum.dir==180"},{"calculate":"datum.dir==0?0.894:0.905","as":"rr"},{"calculate":"datum.rr*sin(datum.dir*PI/180)","as":"x"},{"calculate":"datum.rr*cos(datum.dir*PI/180)","as":"y"}],"mark":{"type":"text","font":"Liberation Serif","fontSize":19,"baseline":"middle","align":"center","color":"#000000"},"encoding":{"x":{"field":"x","type":"quantitative","scale":{"domain":[-0.93176,0.93176],"nice":false,"zero":false},"axis":null},"y":{"field":"y","type":"quantitative","scale":{"domain":[-0.93176,0.93176],"nice":false,"zero":false},"axis":null},"text":{"field":"label"}}},
{"data":{"name":"compass"},"transform":[{"filter":"datum.dir>0&&datum.dir<180"},{"calculate":"(datum.dir==30||datum.dir==330)?0.843:((datum.dir==150||datum.dir==210)?0.868:0.857)","as":"rr"},{"calculate":"datum.dir%180==30?datum.dir-6.3:(datum.dir%180==150?datum.dir+6.3:datum.dir)","as":"aa"},{"calculate":"datum.rr*sin(datum.aa*PI/180)","as":"x"},{"calculate":"datum.rr*cos(datum.aa*PI/180)","as":"y"}],"mark":{"type":"text","font":"Liberation Serif","fontSize":19,"baseline":"middle","align":"left","color":"#000000"},"encoding":{"x":{"field":"x","type":"quantitative","scale":{"domain":[-0.93176,0.93176],"nice":false,"zero":false},"axis":null},"y":{"field":"y","type":"quantitative","scale":{"domain":[-0.93176,0.93176],"nice":false,"zero":false},"axis":null},"text":{"field":"label"}}},
{"data":{"name":"compass"},"transform":[{"filter":"datum.dir>180"},{"calculate":"(datum.dir==30||datum.dir==330)?0.843:((datum.dir==150||datum.dir==210)?0.868:0.857)","as":"rr"},{"calculate":"datum.dir%180==30?datum.dir-6.3:(datum.dir%180==150?datum.dir+6.3:datum.dir)","as":"aa"},{"calculate":"datum.rr*sin(datum.aa*PI/180)","as":"x"},{"calculate":"datum.rr*cos(datum.aa*PI/180)","as":"y"}],"mark":{"type":"text","font":"Liberation Serif","fontSize":19,"baseline":"middle","align":"right","color":"#000000"},"encoding":{"x":{"field":"x","type":"quantitative","scale":{"domain":[-0.93176,0.93176],"nice":false,"zero":false},"axis":null},"y":{"field":"y","type":"quantitative","scale":{"domain":[-0.93176,0.93176],"nice":false,"zero":false},"axis":null},"text":{"field":"label"}}}
]},
{"title":"Secondary Nitrate","width":396,"height":396,"layer":[
{"data":{"values":[{"c":0}]},"mark":{"type":"point","shape":"circle","size":115600,"filled":false,"stroke":"#555555","strokeWidth":1,"opacity":1},"encoding":{"x":{"field":"c","type":"quantitative","scale":{"domain":[-0.93176,0.93176],"nice":false,"zero":false},"axis":null},"y":{"field":"c","type":"quantitative","scale":{"domain":[-0.93176,0.93176],"nice":false,"zero":false},"axis":null}}},
{"data":{"values":[{"a":-0.8,"b":0.8,"c":0}]},"mark":{"type":"rule","stroke":"#8c8c8c","strokeWidth":1.3},"encoding":{"x":{"field":"a","type":"quantitative","scale":{"domain":[-0.93176,0.93176],"nice":false,"zero":false},"axis":null},"x2":{"field":"b"},"y":{"field":"c","type":"quantitative","scale":{"domain":[-0.93176,0.93176],"nice":false,"zero":false},"axis":null}}},
{"data":{"values":[{"a":-0.8,"b":0.8,"c":0}]},"mark":{"type":"rule","stroke":"#8c8c8c","strokeWidth":1.3},"encoding":{"y":{"field":"a","type":"quantitative","scale":{"domain":[-0.93176,0.93176],"nice":false,"zero":false},"axis":null},"y2":{"field":"b"},"x":{"field":"c","type":"quantitative","scale":{"domain":[-0.93176,0.93176],"nice":false,"zero":false},"axis":null}}},
{"data":{"name":"ticks"},"mark":{"type":"rule","stroke":"#8c8c8c","strokeWidth":1},"encoding":{"x":{"field":"r","type":"quantitative","scale":{"domain":[-0.93176,0.93176],"nice":false,"zero":false},"axis":null},"y":{"datum":0,"type":"quantitative","scale":{"domain":[-0.93176,0.93176],"nice":false,"zero":false},"axis":null},"y2":{"datum":-0.02}}},
{"data":{"name":"ticks"},"mark":{"type":"rule","stroke":"#8c8c8c","strokeWidth":1},"encoding":{"y":{"field":"r","type":"quantitative","scale":{"domain":[-0.93176,0.93176],"nice":false,"zero":false},"axis":null},"x":{"datum":0,"type":"quantitative","scale":{"domain":[-0.93176,0.93176],"nice":false,"zero":false},"axis":null},"x2":{"datum":0.02}}},
{"data":{"name":"compass"},"transform":[{"calculate":"0.785*sin(datum.dir*PI/180)","as":"xa"},{"calculate":"0.785*cos(datum.dir*PI/180)","as":"ya"},{"calculate":"0.8*sin(datum.dir*PI/180)","as":"xb"},{"calculate":"0.8*cos(datum.dir*PI/180)","as":"yb"}],"mark":{"type":"rule","stroke":"#555555","strokeWidth":1},"encoding":{"x":{"field":"xa","type":"quantitative","scale":{"domain":[-0.93176,0.93176],"nice":false,"zero":false},"axis":null},"y":{"field":"ya","type":"quantitative","scale":{"domain":[-0.93176,0.93176],"nice":false,"zero":false},"axis":null},"x2":{"field":"xb"},"y2":{"field":"yb"}}},
{"data":{"name":"rose"},"transform":[{"filter":"datum.source==='Secondary Nitrate' && datum.site==='Jackson St.'"},{"calculate":"datum.value*sin(datum.dir*PI/180)","as":"x"},{"calculate":"datum.value*cos(datum.dir*PI/180)","as":"y"}],"mark":{"type":"line","interpolate":"linear-closed","fill":"#c0c0c0","stroke":"#c0c0c0","strokeWidth":0.5},"encoding":{"x":{"field":"x","type":"quantitative","scale":{"domain":[-0.93176,0.93176],"nice":false,"zero":false},"axis":null},"y":{"field":"y","type":"quantitative","scale":{"domain":[-0.93176,0.93176],"nice":false,"zero":false},"axis":null},"order":{"field":"dir","type":"quantitative"}}},
{"data":{"name":"rings"},"mark":{"type":"text","font":"Liberation Serif","fontSize":16,"dy":-12,"baseline":"alphabetic","align":"center","color":"#111111"},"encoding":{"x":{"field":"r","type":"quantitative","scale":{"domain":[-0.93176,0.93176],"nice":false,"zero":false},"axis":null},"y":{"datum":0,"type":"quantitative","scale":{"domain":[-0.93176,0.93176],"nice":false,"zero":false},"axis":null},"text":{"field":"t"}}},
{"data":{"name":"rose"},"transform":[{"filter":"datum.source==='Secondary Nitrate' && datum.site==='Jackson St.'"},{"calculate":"datum.value*sin(datum.dir*PI/180)","as":"x"},{"calculate":"datum.value*cos(datum.dir*PI/180)","as":"y"}],"mark":{"type":"line","interpolate":"linear-closed","strokeWidth":3},"encoding":{"x":{"field":"x","type":"quantitative","scale":{"domain":[-0.93176,0.93176],"nice":false,"zero":false},"axis":null},"y":{"field":"y","type":"quantitative","scale":{"domain":[-0.93176,0.93176],"nice":false,"zero":false},"axis":null},"order":{"field":"dir","type":"quantitative"},"color":{"field":"site","type":"nominal","title":null,"scale":{"domain":["4th St.","Jackson St."],"range":["#000000","#808080"]},"legend":{"orient":"none","legendX":451,"legendY":1320,"direction":"horizontal","symbolType":"stroke","symbolSize":5625,"symbolStrokeWidth":3,"labelFont":"Liberation Serif","labelFontSize":33,"labelFontWeight":"bold","labelColor":"#000000","labelOffset":15,"columnPadding":27,"padding":0,"labelLimit":400}}}},
{"data":{"name":"rose"},"transform":[{"filter":"datum.source==='Secondary Nitrate' && datum.site==='4th St.'"},{"calculate":"datum.value*sin(datum.dir*PI/180)","as":"x"},{"calculate":"datum.value*cos(datum.dir*PI/180)","as":"y"}],"mark":{"type":"line","interpolate":"linear-closed","strokeWidth":3},"encoding":{"x":{"field":"x","type":"quantitative","scale":{"domain":[-0.93176,0.93176],"nice":false,"zero":false},"axis":null},"y":{"field":"y","type":"quantitative","scale":{"domain":[-0.93176,0.93176],"nice":false,"zero":false},"axis":null},"order":{"field":"dir","type":"quantitative"},"color":{"field":"site","type":"nominal","title":null,"scale":{"domain":["4th St.","Jackson St."],"range":["#000000","#808080"]},"legend":{"orient":"none","legendX":451,"legendY":1320,"direction":"horizontal","symbolType":"stroke","symbolSize":5625,"symbolStrokeWidth":3,"labelFont":"Liberation Serif","labelFontSize":33,"labelFontWeight":"bold","labelColor":"#000000","labelOffset":15,"columnPadding":27,"padding":0,"labelLimit":400}}}},
{"data":{"name":"compass"},"transform":[{"filter":"datum.dir==0||datum.dir==180"},{"calculate":"datum.dir==0?0.894:0.905","as":"rr"},{"calculate":"datum.rr*sin(datum.dir*PI/180)","as":"x"},{"calculate":"datum.rr*cos(datum.dir*PI/180)","as":"y"}],"mark":{"type":"text","font":"Liberation Serif","fontSize":19,"baseline":"middle","align":"center","color":"#000000"},"encoding":{"x":{"field":"x","type":"quantitative","scale":{"domain":[-0.93176,0.93176],"nice":false,"zero":false},"axis":null},"y":{"field":"y","type":"quantitative","scale":{"domain":[-0.93176,0.93176],"nice":false,"zero":false},"axis":null},"text":{"field":"label"}}},
{"data":{"name":"compass"},"transform":[{"filter":"datum.dir>0&&datum.dir<180"},{"calculate":"(datum.dir==30||datum.dir==330)?0.843:((datum.dir==150||datum.dir==210)?0.868:0.857)","as":"rr"},{"calculate":"datum.dir%180==30?datum.dir-6.3:(datum.dir%180==150?datum.dir+6.3:datum.dir)","as":"aa"},{"calculate":"datum.rr*sin(datum.aa*PI/180)","as":"x"},{"calculate":"datum.rr*cos(datum.aa*PI/180)","as":"y"}],"mark":{"type":"text","font":"Liberation Serif","fontSize":19,"baseline":"middle","align":"left","color":"#000000"},"encoding":{"x":{"field":"x","type":"quantitative","scale":{"domain":[-0.93176,0.93176],"nice":false,"zero":false},"axis":null},"y":{"field":"y","type":"quantitative","scale":{"domain":[-0.93176,0.93176],"nice":false,"zero":false},"axis":null},"text":{"field":"label"}}},
{"data":{"name":"compass"},"transform":[{"filter":"datum.dir>180"},{"calculate":"(datum.dir==30||datum.dir==330)?0.843:((datum.dir==150||datum.dir==210)?0.868:0.857)","as":"rr"},{"calculate":"datum.dir%180==30?datum.dir-6.3:(datum.dir%180==150?datum.dir+6.3:datum.dir)","as":"aa"},{"calculate":"datum.rr*sin(datum.aa*PI/180)","as":"x"},{"calculate":"datum.rr*cos(datum.aa*PI/180)","as":"y"}],"mark":{"type":"text","font":"Liberation Serif","fontSize":19,"baseline":"middle","align":"right","color":"#000000"},"encoding":{"x":{"field":"x","type":"quantitative","scale":{"domain":[-0.93176,0.93176],"nice":false,"zero":false},"axis":null},"y":{"field":"y","type":"quantitative","scale":{"domain":[-0.93176,0.93176],"nice":false,"zero":false},"axis":null},"text":{"field":"label"}}}
]},
{"title":"Secondary Sulfate","width":396,"height":396,"layer":[
{"data":{"values":[{"c":0}]},"mark":{"type":"point","shape":"circle","size":115600,"filled":false,"stroke":"#555555","strokeWidth":1,"opacity":1},"encoding":{"x":{"field":"c","type":"quantitative","scale":{"domain":[-0.93176,0.93176],"nice":false,"zero":false},"axis":null},"y":{"field":"c","type":"quantitative","scale":{"domain":[-0.93176,0.93176],"nice":false,"zero":false},"axis":null}}},
{"data":{"values":[{"a":-0.8,"b":0.8,"c":0}]},"mark":{"type":"rule","stroke":"#8c8c8c","strokeWidth":1.3},"encoding":{"x":{"field":"a","type":"quantitative","scale":{"domain":[-0.93176,0.93176],"nice":false,"zero":false},"axis":null},"x2":{"field":"b"},"y":{"field":"c","type":"quantitative","scale":{"domain":[-0.93176,0.93176],"nice":false,"zero":false},"axis":null}}},
{"data":{"values":[{"a":-0.8,"b":0.8,"c":0}]},"mark":{"type":"rule","stroke":"#8c8c8c","strokeWidth":1.3},"encoding":{"y":{"field":"a","type":"quantitative","scale":{"domain":[-0.93176,0.93176],"nice":false,"zero":false},"axis":null},"y2":{"field":"b"},"x":{"field":"c","type":"quantitative","scale":{"domain":[-0.93176,0.93176],"nice":false,"zero":false},"axis":null}}},
{"data":{"name":"ticks"},"mark":{"type":"rule","stroke":"#8c8c8c","strokeWidth":1},"encoding":{"x":{"field":"r","type":"quantitative","scale":{"domain":[-0.93176,0.93176],"nice":false,"zero":false},"axis":null},"y":{"datum":0,"type":"quantitative","scale":{"domain":[-0.93176,0.93176],"nice":false,"zero":false},"axis":null},"y2":{"datum":-0.02}}},
{"data":{"name":"ticks"},"mark":{"type":"rule","stroke":"#8c8c8c","strokeWidth":1},"encoding":{"y":{"field":"r","type":"quantitative","scale":{"domain":[-0.93176,0.93176],"nice":false,"zero":false},"axis":null},"x":{"datum":0,"type":"quantitative","scale":{"domain":[-0.93176,0.93176],"nice":false,"zero":false},"axis":null},"x2":{"datum":0.02}}},
{"data":{"name":"compass"},"transform":[{"calculate":"0.785*sin(datum.dir*PI/180)","as":"xa"},{"calculate":"0.785*cos(datum.dir*PI/180)","as":"ya"},{"calculate":"0.8*sin(datum.dir*PI/180)","as":"xb"},{"calculate":"0.8*cos(datum.dir*PI/180)","as":"yb"}],"mark":{"type":"rule","stroke":"#555555","strokeWidth":1},"encoding":{"x":{"field":"xa","type":"quantitative","scale":{"domain":[-0.93176,0.93176],"nice":false,"zero":false},"axis":null},"y":{"field":"ya","type":"quantitative","scale":{"domain":[-0.93176,0.93176],"nice":false,"zero":false},"axis":null},"x2":{"field":"xb"},"y2":{"field":"yb"}}},
{"data":{"name":"rose"},"transform":[{"filter":"datum.source==='Secondary Sulfate' && datum.site==='Jackson St.'"},{"calculate":"datum.value*sin(datum.dir*PI/180)","as":"x"},{"calculate":"datum.value*cos(datum.dir*PI/180)","as":"y"}],"mark":{"type":"line","interpolate":"linear-closed","fill":"#c0c0c0","stroke":"#c0c0c0","strokeWidth":0.5},"encoding":{"x":{"field":"x","type":"quantitative","scale":{"domain":[-0.93176,0.93176],"nice":false,"zero":false},"axis":null},"y":{"field":"y","type":"quantitative","scale":{"domain":[-0.93176,0.93176],"nice":false,"zero":false},"axis":null},"order":{"field":"dir","type":"quantitative"}}},
{"data":{"name":"rings"},"mark":{"type":"text","font":"Liberation Serif","fontSize":16,"dy":-12,"baseline":"alphabetic","align":"center","color":"#111111"},"encoding":{"x":{"field":"r","type":"quantitative","scale":{"domain":[-0.93176,0.93176],"nice":false,"zero":false},"axis":null},"y":{"datum":0,"type":"quantitative","scale":{"domain":[-0.93176,0.93176],"nice":false,"zero":false},"axis":null},"text":{"field":"t"}}},
{"data":{"name":"rose"},"transform":[{"filter":"datum.source==='Secondary Sulfate' && datum.site==='Jackson St.'"},{"calculate":"datum.value*sin(datum.dir*PI/180)","as":"x"},{"calculate":"datum.value*cos(datum.dir*PI/180)","as":"y"}],"mark":{"type":"line","interpolate":"linear-closed","strokeWidth":3},"encoding":{"x":{"field":"x","type":"quantitative","scale":{"domain":[-0.93176,0.93176],"nice":false,"zero":false},"axis":null},"y":{"field":"y","type":"quantitative","scale":{"domain":[-0.93176,0.93176],"nice":false,"zero":false},"axis":null},"order":{"field":"dir","type":"quantitative"},"color":{"field":"site","type":"nominal","title":null,"scale":{"domain":["4th St.","Jackson St."],"range":["#000000","#808080"]},"legend":{"orient":"none","legendX":451,"legendY":1320,"direction":"horizontal","symbolType":"stroke","symbolSize":5625,"symbolStrokeWidth":3,"labelFont":"Liberation Serif","labelFontSize":33,"labelFontWeight":"bold","labelColor":"#000000","labelOffset":15,"columnPadding":27,"padding":0,"labelLimit":400}}}},
{"data":{"name":"rose"},"transform":[{"filter":"datum.source==='Secondary Sulfate' && datum.site==='4th St.'"},{"calculate":"datum.value*sin(datum.dir*PI/180)","as":"x"},{"calculate":"datum.value*cos(datum.dir*PI/180)","as":"y"}],"mark":{"type":"line","interpolate":"linear-closed","strokeWidth":3},"encoding":{"x":{"field":"x","type":"quantitative","scale":{"domain":[-0.93176,0.93176],"nice":false,"zero":false},"axis":null},"y":{"field":"y","type":"quantitative","scale":{"domain":[-0.93176,0.93176],"nice":false,"zero":false},"axis":null},"order":{"field":"dir","type":"quantitative"},"color":{"field":"site","type":"nominal","title":null,"scale":{"domain":["4th St.","Jackson St."],"range":["#000000","#808080"]},"legend":{"orient":"none","legendX":451,"legendY":1320,"direction":"horizontal","symbolType":"stroke","symbolSize":5625,"symbolStrokeWidth":3,"labelFont":"Liberation Serif","labelFontSize":33,"labelFontWeight":"bold","labelColor":"#000000","labelOffset":15,"columnPadding":27,"padding":0,"labelLimit":400}}}},
{"data":{"name":"compass"},"transform":[{"filter":"datum.dir==0||datum.dir==180"},{"calculate":"datum.dir==0?0.894:0.905","as":"rr"},{"calculate":"datum.rr*sin(datum.dir*PI/180)","as":"x"},{"calculate":"datum.rr*cos(datum.dir*PI/180)","as":"y"}],"mark":{"type":"text","font":"Liberation Serif","fontSize":19,"baseline":"middle","align":"center","color":"#000000"},"encoding":{"x":{"field":"x","type":"quantitative","scale":{"domain":[-0.93176,0.93176],"nice":false,"zero":false},"axis":null},"y":{"field":"y","type":"quantitative","scale":{"domain":[-0.93176,0.93176],"nice":false,"zero":false},"axis":null},"text":{"field":"label"}}},
{"data":{"name":"compass"},"transform":[{"filter":"datum.dir>0&&datum.dir<180"},{"calculate":"(datum.dir==30||datum.dir==330)?0.843:((datum.dir==150||datum.dir==210)?0.868:0.857)","as":"rr"},{"calculate":"datum.dir%180==30?datum.dir-6.3:(datum.dir%180==150?datum.dir+6.3:datum.dir)","as":"aa"},{"calculate":"datum.rr*sin(datum.aa*PI/180)","as":"x"},{"calculate":"datum.rr*cos(datum.aa*PI/180)","as":"y"}],"mark":{"type":"text","font":"Liberation Serif","fontSize":19,"baseline":"middle","align":"left","color":"#000000"},"encoding":{"x":{"field":"x","type":"quantitative","scale":{"domain":[-0.93176,0.93176],"nice":false,"zero":false},"axis":null},"y":{"field":"y","type":"quantitative","scale":{"domain":[-0.93176,0.93176],"nice":false,"zero":false},"axis":null},"text":{"field":"label"}}},
{"data":{"name":"compass"},"transform":[{"filter":"datum.dir>180"},{"calculate":"(datum.dir==30||datum.dir==330)?0.843:((datum.dir==150||datum.dir==210)?0.868:0.857)","as":"rr"},{"calculate":"datum.dir%180==30?datum.dir-6.3:(datum.dir%180==150?datum.dir+6.3:datum.dir)","as":"aa"},{"calculate":"datum.rr*sin(datum.aa*PI/180)","as":"x"},{"calculate":"datum.rr*cos(datum.aa*PI/180)","as":"y"}],"mark":{"type":"text","font":"Liberation Serif","fontSize":19,"baseline":"middle","align":"right","color":"#000000"},"encoding":{"x":{"field":"x","type":"quantitative","scale":{"domain":[-0.93176,0.93176],"nice":false,"zero":false},"axis":null},"y":{"field":"y","type":"quantitative","scale":{"domain":[-0.93176,0.93176],"nice":false,"zero":false},"axis":null},"text":{"field":"label"}}}
]},
{"title":"Fresh Sea Salt","width":396,"height":396,"layer":[
{"data":{"values":[{"c":0}]},"mark":{"type":"point","shape":"circle","size":115600,"filled":false,"stroke":"#555555","strokeWidth":1,"opacity":1},"encoding":{"x":{"field":"c","type":"quantitative","scale":{"domain":[-0.93176,0.93176],"nice":false,"zero":false},"axis":null},"y":{"field":"c","type":"quantitative","scale":{"domain":[-0.93176,0.93176],"nice":false,"zero":false},"axis":null}}},
{"data":{"values":[{"a":-0.8,"b":0.8,"c":0}]},"mark":{"type":"rule","stroke":"#8c8c8c","strokeWidth":1.3},"encoding":{"x":{"field":"a","type":"quantitative","scale":{"domain":[-0.93176,0.93176],"nice":false,"zero":false},"axis":null},"x2":{"field":"b"},"y":{"field":"c","type":"quantitative","scale":{"domain":[-0.93176,0.93176],"nice":false,"zero":false},"axis":null}}},
{"data":{"values":[{"a":-0.8,"b":0.8,"c":0}]},"mark":{"type":"rule","stroke":"#8c8c8c","strokeWidth":1.3},"encoding":{"y":{"field":"a","type":"quantitative","scale":{"domain":[-0.93176,0.93176],"nice":false,"zero":false},"axis":null},"y2":{"field":"b"},"x":{"field":"c","type":"quantitative","scale":{"domain":[-0.93176,0.93176],"nice":false,"zero":false},"axis":null}}},
{"data":{"name":"ticks"},"mark":{"type":"rule","stroke":"#8c8c8c","strokeWidth":1},"encoding":{"x":{"field":"r","type":"quantitative","scale":{"domain":[-0.93176,0.93176],"nice":false,"zero":false},"axis":null},"y":{"datum":0,"type":"quantitative","scale":{"domain":[-0.93176,0.93176],"nice":false,"zero":false},"axis":null},"y2":{"datum":-0.02}}},
{"data":{"name":"ticks"},"mark":{"type":"rule","stroke":"#8c8c8c","strokeWidth":1},"encoding":{"y":{"field":"r","type":"quantitative","scale":{"domain":[-0.93176,0.93176],"nice":false,"zero":false},"axis":null},"x":{"datum":0,"type":"quantitative","scale":{"domain":[-0.93176,0.93176],"nice":false,"zero":false},"axis":null},"x2":{"datum":0.02}}},
{"data":{"name":"compass"},"transform":[{"calculate":"0.785*sin(datum.dir*PI/180)","as":"xa"},{"calculate":"0.785*cos(datum.dir*PI/180)","as":"ya"},{"calculate":"0.8*sin(datum.dir*PI/180)","as":"xb"},{"calculate":"0.8*cos(datum.dir*PI/180)","as":"yb"}],"mark":{"type":"rule","stroke":"#555555","strokeWidth":1},"encoding":{"x":{"field":"xa","type":"quantitative","scale":{"domain":[-0.93176,0.93176],"nice":false,"zero":false},"axis":null},"y":{"field":"ya","type":"quantitative","scale":{"domain":[-0.93176,0.93176],"nice":false,"zero":false},"axis":null},"x2":{"field":"xb"},"y2":{"field":"yb"}}},
{"data":{"name":"rose"},"transform":[{"filter":"datum.source==='Fresh Sea Salt' && datum.site==='Jackson St.'"},{"calculate":"datum.value*sin(datum.dir*PI/180)","as":"x"},{"calculate":"datum.value*cos(datum.dir*PI/180)","as":"y"}],"mark":{"type":"line","interpolate":"linear-closed","fill":"#c0c0c0","stroke":"#c0c0c0","strokeWidth":0.5},"encoding":{"x":{"field":"x","type":"quantitative","scale":{"domain":[-0.93176,0.93176],"nice":false,"zero":false},"axis":null},"y":{"field":"y","type":"quantitative","scale":{"domain":[-0.93176,0.93176],"nice":false,"zero":false},"axis":null},"order":{"field":"dir","type":"quantitative"}}},
{"data":{"name":"rings"},"mark":{"type":"text","font":"Liberation Serif","fontSize":16,"dy":-12,"baseline":"alphabetic","align":"center","color":"#111111"},"encoding":{"x":{"field":"r","type":"quantitative","scale":{"domain":[-0.93176,0.93176],"nice":false,"zero":false},"axis":null},"y":{"datum":0,"type":"quantitative","scale":{"domain":[-0.93176,0.93176],"nice":false,"zero":false},"axis":null},"text":{"field":"t"}}},
{"data":{"name":"rose"},"transform":[{"filter":"datum.source==='Fresh Sea Salt' && datum.site==='Jackson St.'"},{"calculate":"datum.value*sin(datum.dir*PI/180)","as":"x"},{"calculate":"datum.value*cos(datum.dir*PI/180)","as":"y"}],"mark":{"type":"line","interpolate":"linear-closed","strokeWidth":3},"encoding":{"x":{"field":"x","type":"quantitative","scale":{"domain":[-0.93176,0.93176],"nice":false,"zero":false},"axis":null},"y":{"field":"y","type":"quantitative","scale":{"domain":[-0.93176,0.93176],"nice":false,"zero":false},"axis":null},"order":{"field":"dir","type":"quantitative"},"color":{"field":"site","type":"nominal","title":null,"scale":{"domain":["4th St.","Jackson St."],"range":["#000000","#808080"]},"legend":{"orient":"none","legendX":451,"legendY":1320,"direction":"horizontal","symbolType":"stroke","symbolSize":5625,"symbolStrokeWidth":3,"labelFont":"Liberation Serif","labelFontSize":33,"labelFontWeight":"bold","labelColor":"#000000","labelOffset":15,"columnPadding":27,"padding":0,"labelLimit":400}}}},
{"data":{"name":"rose"},"transform":[{"filter":"datum.source==='Fresh Sea Salt' && datum.site==='4th St.'"},{"calculate":"datum.value*sin(datum.dir*PI/180)","as":"x"},{"calculate":"datum.value*cos(datum.dir*PI/180)","as":"y"}],"mark":{"type":"line","interpolate":"linear-closed","strokeWidth":3},"encoding":{"x":{"field":"x","type":"quantitative","scale":{"domain":[-0.93176,0.93176],"nice":false,"zero":false},"axis":null},"y":{"field":"y","type":"quantitative","scale":{"domain":[-0.93176,0.93176],"nice":false,"zero":false},"axis":null},"order":{"field":"dir","type":"quantitative"},"color":{"field":"site","type":"nominal","title":null,"scale":{"domain":["4th St.","Jackson St."],"range":["#000000","#808080"]},"legend":{"orient":"none","legendX":451,"legendY":1320,"direction":"horizontal","symbolType":"stroke","symbolSize":5625,"symbolStrokeWidth":3,"labelFont":"Liberation Serif","labelFontSize":33,"labelFontWeight":"bold","labelColor":"#000000","labelOffset":15,"columnPadding":27,"padding":0,"labelLimit":400}}}},
{"data":{"name":"compass"},"transform":[{"filter":"datum.dir==0||datum.dir==180"},{"calculate":"datum.dir==0?0.894:0.905","as":"rr"},{"calculate":"datum.rr*sin(datum.dir*PI/180)","as":"x"},{"calculate":"datum.rr*cos(datum.dir*PI/180)","as":"y"}],"mark":{"type":"text","font":"Liberation Serif","fontSize":19,"baseline":"middle","align":"center","color":"#000000"},"encoding":{"x":{"field":"x","type":"quantitative","scale":{"domain":[-0.93176,0.93176],"nice":false,"zero":false},"axis":null},"y":{"field":"y","type":"quantitative","scale":{"domain":[-0.93176,0.93176],"nice":false,"zero":false},"axis":null},"text":{"field":"label"}}},
{"data":{"name":"compass"},"transform":[{"filter":"datum.dir>0&&datum.dir<180"},{"calculate":"(datum.dir==30||datum.dir==330)?0.843:((datum.dir==150||datum.dir==210)?0.868:0.857)","as":"rr"},{"calculate":"datum.dir%180==30?datum.dir-6.3:(datum.dir%180==150?datum.dir+6.3:datum.dir)","as":"aa"},{"calculate":"datum.rr*sin(datum.aa*PI/180)","as":"x"},{"calculate":"datum.rr*cos(datum.aa*PI/180)","as":"y"}],"mark":{"type":"text","font":"Liberation Serif","fontSize":19,"baseline":"middle","align":"left","color":"#000000"},"encoding":{"x":{"field":"x","type":"quantitative","scale":{"domain":[-0.93176,0.93176],"nice":false,"zero":false},"axis":null},"y":{"field":"y","type":"quantitative","scale":{"domain":[-0.93176,0.93176],"nice":false,"zero":false},"axis":null},"text":{"field":"label"}}},
{"data":{"name":"compass"},"transform":[{"filter":"datum.dir>180"},{"calculate":"(datum.dir==30||datum.dir==330)?0.843:((datum.dir==150||datum.dir==210)?0.868:0.857)","as":"rr"},{"calculate":"datum.dir%180==30?datum.dir-6.3:(datum.dir%180==150?datum.dir+6.3:datum.dir)","as":"aa"},{"calculate":"datum.rr*sin(datum.aa*PI/180)","as":"x"},{"calculate":"datum.rr*cos(datum.aa*PI/180)","as":"y"}],"mark":{"type":"text","font":"Liberation Serif","fontSize":19,"baseline":"middle","align":"right","color":"#000000"},"encoding":{"x":{"field":"x","type":"quantitative","scale":{"domain":[-0.93176,0.93176],"nice":false,"zero":false},"axis":null},"y":{"field":"y","type":"quantitative","scale":{"domain":[-0.93176,0.93176],"nice":false,"zero":false},"axis":null},"text":{"field":"label"}}}
]},
{"title":"Gasoline Vehicle","width":396,"height":396,"layer":[
{"data":{"values":[{"c":0}]},"mark":{"type":"point","shape":"circle","size":115600,"filled":false,"stroke":"#555555","strokeWidth":1,"opacity":1},"encoding":{"x":{"field":"c","type":"quantitative","scale":{"domain":[-0.93176,0.93176],"nice":false,"zero":false},"axis":null},"y":{"field":"c","type":"quantitative","scale":{"domain":[-0.93176,0.93176],"nice":false,"zero":false},"axis":null}}},
{"data":{"values":[{"a":-0.8,"b":0.8,"c":0}]},"mark":{"type":"rule","stroke":"#8c8c8c","strokeWidth":1.3},"encoding":{"x":{"field":"a","type":"quantitative","scale":{"domain":[-0.93176,0.93176],"nice":false,"zero":false},"axis":null},"x2":{"field":"b"},"y":{"field":"c","type":"quantitative","scale":{"domain":[-0.93176,0.93176],"nice":false,"zero":false},"axis":null}}},
{"data":{"values":[{"a":-0.8,"b":0.8,"c":0}]},"mark":{"type":"rule","stroke":"#8c8c8c","strokeWidth":1.3},"encoding":{"y":{"field":"a","type":"quantitative","scale":{"domain":[-0.93176,0.93176],"nice":false,"zero":false},"axis":null},"y2":{"field":"b"},"x":{"field":"c","type":"quantitative","scale":{"domain":[-0.93176,0.93176],"nice":false,"zero":false},"axis":null}}},
{"data":{"name":"ticks"},"mark":{"type":"rule","stroke":"#8c8c8c","strokeWidth":1},"encoding":{"x":{"field":"r","type":"quantitative","scale":{"domain":[-0.93176,0.93176],"nice":false,"zero":false},"axis":null},"y":{"datum":0,"type":"quantitative","scale":{"domain":[-0.93176,0.93176],"nice":false,"zero":false},"axis":null},"y2":{"datum":-0.02}}},
{"data":{"name":"ticks"},"mark":{"type":"rule","stroke":"#8c8c8c","strokeWidth":1},"encoding":{"y":{"field":"r","type":"quantitative","scale":{"domain":[-0.93176,0.93176],"nice":false,"zero":false},"axis":null},"x":{"datum":0,"type":"quantitative","scale":{"domain":[-0.93176,0.93176],"nice":false,"zero":false},"axis":null},"x2":{"datum":0.02}}},
{"data":{"name":"compass"},"transform":[{"calculate":"0.785*sin(datum.dir*PI/180)","as":"xa"},{"calculate":"0.785*cos(datum.dir*PI/180)","as":"ya"},{"calculate":"0.8*sin(datum.dir*PI/180)","as":"xb"},{"calculate":"0.8*cos(datum.dir*PI/180)","as":"yb"}],"mark":{"type":"rule","stroke":"#555555","strokeWidth":1},"encoding":{"x":{"field":"xa","type":"quantitative","scale":{"domain":[-0.93176,0.93176],"nice":false,"zero":false},"axis":null},"y":{"field":"ya","type":"quantitative","scale":{"domain":[-0.93176,0.93176],"nice":false,"zero":false},"axis":null},"x2":{"field":"xb"},"y2":{"field":"yb"}}},
{"data":{"name":"rose"},"transform":[{"filter":"datum.source==='Gasoline Vehicle' && datum.site==='Jackson St.'"},{"calculate":"datum.value*sin(datum.dir*PI/180)","as":"x"},{"calculate":"datum.value*cos(datum.dir*PI/180)","as":"y"}],"mark":{"type":"line","interpolate":"linear-closed","fill":"#c0c0c0","stroke":"#c0c0c0","strokeWidth":0.5},"encoding":{"x":{"field":"x","type":"quantitative","scale":{"domain":[-0.93176,0.93176],"nice":false,"zero":false},"axis":null},"y":{"field":"y","type":"quantitative","scale":{"domain":[-0.93176,0.93176],"nice":false,"zero":false},"axis":null},"order":{"field":"dir","type":"quantitative"}}},
{"data":{"name":"rings"},"mark":{"type":"text","font":"Liberation Serif","fontSize":16,"dy":-12,"baseline":"alphabetic","align":"center","color":"#111111"},"encoding":{"x":{"field":"r","type":"quantitative","scale":{"domain":[-0.93176,0.93176],"nice":false,"zero":false},"axis":null},"y":{"datum":0,"type":"quantitative","scale":{"domain":[-0.93176,0.93176],"nice":false,"zero":false},"axis":null},"text":{"field":"t"}}},
{"data":{"name":"rose"},"transform":[{"filter":"datum.source==='Gasoline Vehicle' && datum.site==='Jackson St.'"},{"calculate":"datum.value*sin(datum.dir*PI/180)","as":"x"},{"calculate":"datum.value*cos(datum.dir*PI/180)","as":"y"}],"mark":{"type":"line","interpolate":"linear-closed","strokeWidth":3},"encoding":{"x":{"field":"x","type":"quantitative","scale":{"domain":[-0.93176,0.93176],"nice":false,"zero":false},"axis":null},"y":{"field":"y","type":"quantitative","scale":{"domain":[-0.93176,0.93176],"nice":false,"zero":false},"axis":null},"order":{"field":"dir","type":"quantitative"},"color":{"field":"site","type":"nominal","title":null,"scale":{"domain":["4th St.","Jackson St."],"range":["#000000","#808080"]},"legend":{"orient":"none","legendX":451,"legendY":1320,"direction":"horizontal","symbolType":"stroke","symbolSize":5625,"symbolStrokeWidth":3,"labelFont":"Liberation Serif","labelFontSize":33,"labelFontWeight":"bold","labelColor":"#000000","labelOffset":15,"columnPadding":27,"padding":0,"labelLimit":400}}}},
{"data":{"name":"rose"},"transform":[{"filter":"datum.source==='Gasoline Vehicle' && datum.site==='4th St.'"},{"calculate":"datum.value*sin(datum.dir*PI/180)","as":"x"},{"calculate":"datum.value*cos(datum.dir*PI/180)","as":"y"}],"mark":{"type":"line","interpolate":"linear-closed","strokeWidth":3},"encoding":{"x":{"field":"x","type":"quantitative","scale":{"domain":[-0.93176,0.93176],"nice":false,"zero":false},"axis":null},"y":{"field":"y","type":"quantitative","scale":{"domain":[-0.93176,0.93176],"nice":false,"zero":false},"axis":null},"order":{"field":"dir","type":"quantitative"},"color":{"field":"site","type":"nominal","title":null,"scale":{"domain":["4th St.","Jackson St."],"range":["#000000","#808080"]},"legend":{"orient":"none","legendX":451,"legendY":1320,"direction":"horizontal","symbolType":"stroke","symbolSize":5625,"symbolStrokeWidth":3,"labelFont":"Liberation Serif","labelFontSize":33,"labelFontWeight":"bold","labelColor":"#000000","labelOffset":15,"columnPadding":27,"padding":0,"labelLimit":400}}}},
{"data":{"name":"compass"},"transform":[{"filter":"datum.dir==0||datum.dir==180"},{"calculate":"datum.dir==0?0.894:0.905","as":"rr"},{"calculate":"datum.rr*sin(datum.dir*PI/180)","as":"x"},{"calculate":"datum.rr*cos(datum.dir*PI/180)","as":"y"}],"mark":{"type":"text","font":"Liberation Serif","fontSize":19,"baseline":"middle","align":"center","color":"#000000"},"encoding":{"x":{"field":"x","type":"quantitative","scale":{"domain":[-0.93176,0.93176],"nice":false,"zero":false},"axis":null},"y":{"field":"y","type":"quantitative","scale":{"domain":[-0.93176,0.93176],"nice":false,"zero":false},"axis":null},"text":{"field":"label"}}},
{"data":{"name":"compass"},"transform":[{"filter":"datum.dir>0&&datum.dir<180"},{"calculate":"(datum.dir==30||datum.dir==330)?0.843:((datum.dir==150||datum.dir==210)?0.868:0.857)","as":"rr"},{"calculate":"datum.dir%180==30?datum.dir-6.3:(datum.dir%180==150?datum.dir+6.3:datum.dir)","as":"aa"},{"calculate":"datum.rr*sin(datum.aa*PI/180)","as":"x"},{"calculate":"datum.rr*cos(datum.aa*PI/180)","as":"y"}],"mark":{"type":"text","font":"Liberation Serif","fontSize":19,"baseline":"middle","align":"left","color":"#000000"},"encoding":{"x":{"field":"x","type":"quantitative","scale":{"domain":[-0.93176,0.93176],"nice":false,"zero":false},"axis":null},"y":{"field":"y","type":"quantitative","scale":{"domain":[-0.93176,0.93176],"nice":false,"zero":false},"axis":null},"text":{"field":"label"}}},
{"data":{"name":"compass"},"transform":[{"filter":"datum.dir>180"},{"calculate":"(datum.dir==30||datum.dir==330)?0.843:((datum.dir==150||datum.dir==210)?0.868:0.857)","as":"rr"},{"calculate":"datum.dir%180==30?datum.dir-6.3:(datum.dir%180==150?datum.dir+6.3:datum.dir)","as":"aa"},{"calculate":"datum.rr*sin(datum.aa*PI/180)","as":"x"},{"calculate":"datum.rr*cos(datum.aa*PI/180)","as":"y"}],"mark":{"type":"text","font":"Liberation Serif","fontSize":19,"baseline":"middle","align":"right","color":"#000000"},"encoding":{"x":{"field":"x","type":"quantitative","scale":{"domain":[-0.93176,0.93176],"nice":false,"zero":false},"axis":null},"y":{"field":"y","type":"quantitative","scale":{"domain":[-0.93176,0.93176],"nice":false,"zero":false},"axis":null},"text":{"field":"label"}}}
]},
{"title":"Aged Sea Salt","width":396,"height":396,"layer":[
{"data":{"values":[{"c":0}]},"mark":{"type":"point","shape":"circle","size":115600,"filled":false,"stroke":"#555555","strokeWidth":1,"opacity":1},"encoding":{"x":{"field":"c","type":"quantitative","scale":{"domain":[-0.93176,0.93176],"nice":false,"zero":false},"axis":null},"y":{"field":"c","type":"quantitative","scale":{"domain":[-0.93176,0.93176],"nice":false,"zero":false},"axis":null}}},
{"data":{"values":[{"a":-0.8,"b":0.8,"c":0}]},"mark":{"type":"rule","stroke":"#8c8c8c","strokeWidth":1.3},"encoding":{"x":{"field":"a","type":"quantitative","scale":{"domain":[-0.93176,0.93176],"nice":false,"zero":false},"axis":null},"x2":{"field":"b"},"y":{"field":"c","type":"quantitative","scale":{"domain":[-0.93176,0.93176],"nice":false,"zero":false},"axis":null}}},
{"data":{"values":[{"a":-0.8,"b":0.8,"c":0}]},"mark":{"type":"rule","stroke":"#8c8c8c","strokeWidth":1.3},"encoding":{"y":{"field":"a","type":"quantitative","scale":{"domain":[-0.93176,0.93176],"nice":false,"zero":false},"axis":null},"y2":{"field":"b"},"x":{"field":"c","type":"quantitative","scale":{"domain":[-0.93176,0.93176],"nice":false,"zero":false},"axis":null}}},
{"data":{"name":"ticks"},"mark":{"type":"rule","stroke":"#8c8c8c","strokeWidth":1},"encoding":{"x":{"field":"r","type":"quantitative","scale":{"domain":[-0.93176,0.93176],"nice":false,"zero":false},"axis":null},"y":{"datum":0,"type":"quantitative","scale":{"domain":[-0.93176,0.93176],"nice":false,"zero":false},"axis":null},"y2":{"datum":-0.02}}},
{"data":{"name":"ticks"},"mark":{"type":"rule","stroke":"#8c8c8c","strokeWidth":1},"encoding":{"y":{"field":"r","type":"quantitative","scale":{"domain":[-0.93176,0.93176],"nice":false,"zero":false},"axis":null},"x":{"datum":0,"type":"quantitative","scale":{"domain":[-0.93176,0.93176],"nice":false,"zero":false},"axis":null},"x2":{"datum":0.02}}},
{"data":{"name":"compass"},"transform":[{"calculate":"0.785*sin(datum.dir*PI/180)","as":"xa"},{"calculate":"0.785*cos(datum.dir*PI/180)","as":"ya"},{"calculate":"0.8*sin(datum.dir*PI/180)","as":"xb"},{"calculate":"0.8*cos(datum.dir*PI/180)","as":"yb"}],"mark":{"type":"rule","stroke":"#555555","strokeWidth":1},"encoding":{"x":{"field":"xa","type":"quantitative","scale":{"domain":[-0.93176,0.93176],"nice":false,"zero":false},"axis":null},"y":{"field":"ya","type":"quantitative","scale":{"domain":[-0.93176,0.93176],"nice":false,"zero":false},"axis":null},"x2":{"field":"xb"},"y2":{"field":"yb"}}},
{"data":{"name":"rose"},"transform":[{"filter":"datum.source==='Aged Sea Salt' && datum.site==='Jackson St.'"},{"calculate":"datum.value*sin(datum.dir*PI/180)","as":"x"},{"calculate":"datum.value*cos(datum.dir*PI/180)","as":"y"}],"mark":{"type":"line","interpolate":"linear-closed","fill":"#c0c0c0","stroke":"#c0c0c0","strokeWidth":0.5},"encoding":{"x":{"field":"x","type":"quantitative","scale":{"domain":[-0.93176,0.93176],"nice":false,"zero":false},"axis":null},"y":{"field":"y","type":"quantitative","scale":{"domain":[-0.93176,0.93176],"nice":false,"zero":false},"axis":null},"order":{"field":"dir","type":"quantitative"}}},
{"data":{"name":"rings"},"mark":{"type":"text","font":"Liberation Serif","fontSize":16,"dy":-12,"baseline":"alphabetic","align":"center","color":"#111111"},"encoding":{"x":{"field":"r","type":"quantitative","scale":{"domain":[-0.93176,0.93176],"nice":false,"zero":false},"axis":null},"y":{"datum":0,"type":"quantitative","scale":{"domain":[-0.93176,0.93176],"nice":false,"zero":false},"axis":null},"text":{"field":"t"}}},
{"data":{"name":"rose"},"transform":[{"filter":"datum.source==='Aged Sea Salt' && datum.site==='Jackson St.'"},{"calculate":"datum.value*sin(datum.dir*PI/180)","as":"x"},{"calculate":"datum.value*cos(datum.dir*PI/180)","as":"y"}],"mark":{"type":"line","interpolate":"linear-closed","strokeWidth":3},"encoding":{"x":{"field":"x","type":"quantitative","scale":{"domain":[-0.93176,0.93176],"nice":false,"zero":false},"axis":null},"y":{"field":"y","type":"quantitative","scale":{"domain":[-0.93176,0.93176],"nice":false,"zero":false},"axis":null},"order":{"field":"dir","type":"quantitative"},"color":{"field":"site","type":"nominal","title":null,"scale":{"domain":["4th St.","Jackson St."],"range":["#000000","#808080"]},"legend":{"orient":"none","legendX":451,"legendY":1320,"direction":"horizontal","symbolType":"stroke","symbolSize":5625,"symbolStrokeWidth":3,"labelFont":"Liberation Serif","labelFontSize":33,"labelFontWeight":"bold","labelColor":"#000000","labelOffset":15,"columnPadding":27,"padding":0,"labelLimit":400}}}},
{"data":{"name":"rose"},"transform":[{"filter":"datum.source==='Aged Sea Salt' && datum.site==='4th St.'"},{"calculate":"datum.value*sin(datum.dir*PI/180)","as":"x"},{"calculate":"datum.value*cos(datum.dir*PI/180)","as":"y"}],"mark":{"type":"line","interpolate":"linear-closed","strokeWidth":3},"encoding":{"x":{"field":"x","type":"quantitative","scale":{"domain":[-0.93176,0.93176],"nice":false,"zero":false},"axis":null},"y":{"field":"y","type":"quantitative","scale":{"domain":[-0.93176,0.93176],"nice":false,"zero":false},"axis":null},"order":{"field":"dir","type":"quantitative"},"color":{"field":"site","type":"nominal","title":null,"scale":{"domain":["4th St.","Jackson St."],"range":["#000000","#808080"]},"legend":{"orient":"none","legendX":451,"legendY":1320,"direction":"horizontal","symbolType":"stroke","symbolSize":5625,"symbolStrokeWidth":3,"labelFont":"Liberation Serif","labelFontSize":33,"labelFontWeight":"bold","labelColor":"#000000","labelOffset":15,"columnPadding":27,"padding":0,"labelLimit":400}}}},
{"data":{"name":"compass"},"transform":[{"filter":"datum.dir==0||datum.dir==180"},{"calculate":"datum.dir==0?0.894:0.905","as":"rr"},{"calculate":"datum.rr*sin(datum.dir*PI/180)","as":"x"},{"calculate":"datum.rr*cos(datum.dir*PI/180)","as":"y"}],"mark":{"type":"text","font":"Liberation Serif","fontSize":19,"baseline":"middle","align":"center","color":"#000000"},"encoding":{"x":{"field":"x","type":"quantitative","scale":{"domain":[-0.93176,0.93176],"nice":false,"zero":false},"axis":null},"y":{"field":"y","type":"quantitative","scale":{"domain":[-0.93176,0.93176],"nice":false,"zero":false},"axis":null},"text":{"field":"label"}}},
{"data":{"name":"compass"},"transform":[{"filter":"datum.dir>0&&datum.dir<180"},{"calculate":"(datum.dir==30||datum.dir==330)?0.843:((datum.dir==150||datum.dir==210)?0.868:0.857)","as":"rr"},{"calculate":"datum.dir%180==30?datum.dir-6.3:(datum.dir%180==150?datum.dir+6.3:datum.dir)","as":"aa"},{"calculate":"datum.rr*sin(datum.aa*PI/180)","as":"x"},{"calculate":"datum.rr*cos(datum.aa*PI/180)","as":"y"}],"mark":{"type":"text","font":"Liberation Serif","fontSize":19,"baseline":"middle","align":"left","color":"#000000"},"encoding":{"x":{"field":"x","type":"quantitative","scale":{"domain":[-0.93176,0.93176],"nice":false,"zero":false},"axis":null},"y":{"field":"y","type":"quantitative","scale":{"domain":[-0.93176,0.93176],"nice":false,"zero":false},"axis":null},"text":{"field":"label"}}},
{"data":{"name":"compass"},"transform":[{"filter":"datum.dir>180"},{"calculate":"(datum.dir==30||datum.dir==330)?0.843:((datum.dir==150||datum.dir==210)?0.868:0.857)","as":"rr"},{"calculate":"datum.dir%180==30?datum.dir-6.3:(datum.dir%180==150?datum.dir+6.3:datum.dir)","as":"aa"},{"calculate":"datum.rr*sin(datum.aa*PI/180)","as":"x"},{"calculate":"datum.rr*cos(datum.aa*PI/180)","as":"y"}],"mark":{"type":"text","font":"Liberation Serif","fontSize":19,"baseline":"middle","align":"right","color":"#000000"},"encoding":{"x":{"field":"x","type":"quantitative","scale":{"domain":[-0.93176,0.93176],"nice":false,"zero":false},"axis":null},"y":{"field":"y","type":"quantitative","scale":{"domain":[-0.93176,0.93176],"nice":false,"zero":false},"axis":null},"text":{"field":"label"}}}
]},
{"title":"Road Dust","width":396,"height":396,"layer":[
{"data":{"values":[{"c":0}]},"mark":{"type":"point","shape":"circle","size":115600,"filled":false,"stroke":"#555555","strokeWidth":1,"opacity":1},"encoding":{"x":{"field":"c","type":"quantitative","scale":{"domain":[-0.93176,0.93176],"nice":false,"zero":false},"axis":null},"y":{"field":"c","type":"quantitative","scale":{"domain":[-0.93176,0.93176],"nice":false,"zero":false},"axis":null}}},
{"data":{"values":[{"a":-0.8,"b":0.8,"c":0}]},"mark":{"type":"rule","stroke":"#8c8c8c","strokeWidth":1.3},"encoding":{"x":{"field":"a","type":"quantitative","scale":{"domain":[-0.93176,0.93176],"nice":false,"zero":false},"axis":null},"x2":{"field":"b"},"y":{"field":"c","type":"quantitative","scale":{"domain":[-0.93176,0.93176],"nice":false,"zero":false},"axis":null}}},
{"data":{"values":[{"a":-0.8,"b":0.8,"c":0}]},"mark":{"type":"rule","stroke":"#8c8c8c","strokeWidth":1.3},"encoding":{"y":{"field":"a","type":"quantitative","scale":{"domain":[-0.93176,0.93176],"nice":false,"zero":false},"axis":null},"y2":{"field":"b"},"x":{"field":"c","type":"quantitative","scale":{"domain":[-0.93176,0.93176],"nice":false,"zero":false},"axis":null}}},
{"data":{"name":"ticks"},"mark":{"type":"rule","stroke":"#8c8c8c","strokeWidth":1},"encoding":{"x":{"field":"r","type":"quantitative","scale":{"domain":[-0.93176,0.93176],"nice":false,"zero":false},"axis":null},"y":{"datum":0,"type":"quantitative","scale":{"domain":[-0.93176,0.93176],"nice":false,"zero":false},"axis":null},"y2":{"datum":-0.02}}},
{"data":{"name":"ticks"},"mark":{"type":"rule","stroke":"#8c8c8c","strokeWidth":1},"encoding":{"y":{"field":"r","type":"quantitative","scale":{"domain":[-0.93176,0.93176],"nice":false,"zero":false},"axis":null},"x":{"datum":0,"type":"quantitative","scale":{"domain":[-0.93176,0.93176],"nice":false,"zero":false},"axis":null},"x2":{"datum":0.02}}},
{"data":{"name":"compass"},"transform":[{"calculate":"0.785*sin(datum.dir*PI/180)","as":"xa"},{"calculate":"0.785*cos(datum.dir*PI/180)","as":"ya"},{"calculate":"0.8*sin(datum.dir*PI/180)","as":"xb"},{"calculate":"0.8*cos(datum.dir*PI/180)","as":"yb"}],"mark":{"type":"rule","stroke":"#555555","strokeWidth":1},"encoding":{"x":{"field":"xa","type":"quantitative","scale":{"domain":[-0.93176,0.93176],"nice":false,"zero":false},"axis":null},"y":{"field":"ya","type":"quantitative","scale":{"domain":[-0.93176,0.93176],"nice":false,"zero":false},"axis":null},"x2":{"field":"xb"},"y2":{"field":"yb"}}},
{"data":{"name":"rose"},"transform":[{"filter":"datum.source==='Road Dust' && datum.site==='Jackson St.'"},{"calculate":"datum.value*sin(datum.dir*PI/180)","as":"x"},{"calculate":"datum.value*cos(datum.dir*PI/180)","as":"y"}],"mark":{"type":"line","interpolate":"linear-closed","fill":"#c0c0c0","stroke":"#c0c0c0","strokeWidth":0.5},"encoding":{"x":{"field":"x","type":"quantitative","scale":{"domain":[-0.93176,0.93176],"nice":false,"zero":false},"axis":null},"y":{"field":"y","type":"quantitative","scale":{"domain":[-0.93176,0.93176],"nice":false,"zero":false},"axis":null},"order":{"field":"dir","type":"quantitative"}}},
{"data":{"name":"rings"},"mark":{"type":"text","font":"Liberation Serif","fontSize":16,"dy":-12,"baseline":"alphabetic","align":"center","color":"#111111"},"encoding":{"x":{"field":"r","type":"quantitative","scale":{"domain":[-0.93176,0.93176],"nice":false,"zero":false},"axis":null},"y":{"datum":0,"type":"quantitative","scale":{"domain":[-0.93176,0.93176],"nice":false,"zero":false},"axis":null},"text":{"field":"t"}}},
{"data":{"name":"rose"},"transform":[{"filter":"datum.source==='Road Dust' && datum.site==='Jackson St.'"},{"calculate":"datum.value*sin(datum.dir*PI/180)","as":"x"},{"calculate":"datum.value*cos(datum.dir*PI/180)","as":"y"}],"mark":{"type":"line","interpolate":"linear-closed","strokeWidth":3},"encoding":{"x":{"field":"x","type":"quantitative","scale":{"domain":[-0.93176,0.93176],"nice":false,"zero":false},"axis":null},"y":{"field":"y","type":"quantitative","scale":{"domain":[-0.93176,0.93176],"nice":false,"zero":false},"axis":null},"order":{"field":"dir","type":"quantitative"},"color":{"field":"site","type":"nominal","title":null,"scale":{"domain":["4th St.","Jackson St."],"range":["#000000","#808080"]},"legend":{"orient":"none","legendX":451,"legendY":1320,"direction":"horizontal","symbolType":"stroke","symbolSize":5625,"symbolStrokeWidth":3,"labelFont":"Liberation Serif","labelFontSize":33,"labelFontWeight":"bold","labelColor":"#000000","labelOffset":15,"columnPadding":27,"padding":0,"labelLimit":400}}}},
{"data":{"name":"rose"},"transform":[{"filter":"datum.source==='Road Dust' && datum.site==='4th St.'"},{"calculate":"datum.value*sin(datum.dir*PI/180)","as":"x"},{"calculate":"datum.value*cos(datum.dir*PI/180)","as":"y"}],"mark":{"type":"line","interpolate":"linear-closed","strokeWidth":3},"encoding":{"x":{"field":"x","type":"quantitative","scale":{"domain":[-0.93176,0.93176],"nice":false,"zero":false},"axis":null},"y":{"field":"y","type":"quantitative","scale":{"domain":[-0.93176,0.93176],"nice":false,"zero":false},"axis":null},"order":{"field":"dir","type":"quantitative"},"color":{"field":"site","type":"nominal","title":null,"scale":{"domain":["4th St.","Jackson St."],"range":["#000000","#808080"]},"legend":{"orient":"none","legendX":451,"legendY":1320,"direction":"horizontal","symbolType":"stroke","symbolSize":5625,"symbolStrokeWidth":3,"labelFont":"Liberation Serif","labelFontSize":33,"labelFontWeight":"bold","labelColor":"#000000","labelOffset":15,"columnPadding":27,"padding":0,"labelLimit":400}}}},
{"data":{"name":"compass"},"transform":[{"filter":"datum.dir==0||datum.dir==180"},{"calculate":"datum.dir==0?0.894:0.905","as":"rr"},{"calculate":"datum.rr*sin(datum.dir*PI/180)","as":"x"},{"calculate":"datum.rr*cos(datum.dir*PI/180)","as":"y"}],"mark":{"type":"text","font":"Liberation Serif","fontSize":19,"baseline":"middle","align":"center","color":"#000000"},"encoding":{"x":{"field":"x","type":"quantitative","scale":{"domain":[-0.93176,0.93176],"nice":false,"zero":false},"axis":null},"y":{"field":"y","type":"quantitative","scale":{"domain":[-0.93176,0.93176],"nice":false,"zero":false},"axis":null},"text":{"field":"label"}}},
{"data":{"name":"compass"},"transform":[{"filter":"datum.dir>0&&datum.dir<180"},{"calculate":"(datum.dir==30||datum.dir==330)?0.843:((datum.dir==150||datum.dir==210)?0.868:0.857)","as":"rr"},{"calculate":"datum.dir%180==30?datum.dir-6.3:(datum.dir%180==150?datum.dir+6.3:datum.dir)","as":"aa"},{"calculate":"datum.rr*sin(datum.aa*PI/180)","as":"x"},{"calculate":"datum.rr*cos(datum.aa*PI/180)","as":"y"}],"mark":{"type":"text","font":"Liberation Serif","fontSize":19,"baseline":"middle","align":"left","color":"#000000"},"encoding":{"x":{"field":"x","type":"quantitative","scale":{"domain":[-0.93176,0.93176],"nice":false,"zero":false},"axis":null},"y":{"field":"y","type":"quantitative","scale":{"domain":[-0.93176,0.93176],"nice":false,"zero":false},"axis":null},"text":{"field":"label"}}},
{"data":{"name":"compass"},"transform":[{"filter":"datum.dir>180"},{"calculate":"(datum.dir==30||datum.dir==330)?0.843:((datum.dir==150||datum.dir==210)?0.868:0.857)","as":"rr"},{"calculate":"datum.dir%180==30?datum.dir-6.3:(datum.dir%180==150?datum.dir+6.3:datum.dir)","as":"aa"},{"calculate":"datum.rr*sin(datum.aa*PI/180)","as":"x"},{"calculate":"datum.rr*cos(datum.aa*PI/180)","as":"y"}],"mark":{"type":"text","font":"Liberation Serif","fontSize":19,"baseline":"middle","align":"right","color":"#000000"},"encoding":{"x":{"field":"x","type":"quantitative","scale":{"domain":[-0.93176,0.93176],"nice":false,"zero":false},"axis":null},"y":{"field":"y","type":"quantitative","scale":{"domain":[-0.93176,0.93176],"nice":false,"zero":false},"axis":null},"text":{"field":"label"}}}
]},
{"title":"Diesel Emission","width":396,"height":396,"layer":[
{"data":{"values":[{"c":0}]},"mark":{"type":"point","shape":"circle","size":115600,"filled":false,"stroke":"#555555","strokeWidth":1,"opacity":1},"encoding":{"x":{"field":"c","type":"quantitative","scale":{"domain":[-0.93176,0.93176],"nice":false,"zero":false},"axis":null},"y":{"field":"c","type":"quantitative","scale":{"domain":[-0.93176,0.93176],"nice":false,"zero":false},"axis":null}}},
{"data":{"values":[{"a":-0.8,"b":0.8,"c":0}]},"mark":{"type":"rule","stroke":"#8c8c8c","strokeWidth":1.3},"encoding":{"x":{"field":"a","type":"quantitative","scale":{"domain":[-0.93176,0.93176],"nice":false,"zero":false},"axis":null},"x2":{"field":"b"},"y":{"field":"c","type":"quantitative","scale":{"domain":[-0.93176,0.93176],"nice":false,"zero":false},"axis":null}}},
{"data":{"values":[{"a":-0.8,"b":0.8,"c":0}]},"mark":{"type":"rule","stroke":"#8c8c8c","strokeWidth":1.3},"encoding":{"y":{"field":"a","type":"quantitative","scale":{"domain":[-0.93176,0.93176],"nice":false,"zero":false},"axis":null},"y2":{"field":"b"},"x":{"field":"c","type":"quantitative","scale":{"domain":[-0.93176,0.93176],"nice":false,"zero":false},"axis":null}}},
{"data":{"name":"ticks"},"mark":{"type":"rule","stroke":"#8c8c8c","strokeWidth":1},"encoding":{"x":{"field":"r","type":"quantitative","scale":{"domain":[-0.93176,0.93176],"nice":false,"zero":false},"axis":null},"y":{"datum":0,"type":"quantitative","scale":{"domain":[-0.93176,0.93176],"nice":false,"zero":false},"axis":null},"y2":{"datum":-0.02}}},
{"data":{"name":"ticks"},"mark":{"type":"rule","stroke":"#8c8c8c","strokeWidth":1},"encoding":{"y":{"field":"r","type":"quantitative","scale":{"domain":[-0.93176,0.93176],"nice":false,"zero":false},"axis":null},"x":{"datum":0,"type":"quantitative","scale":{"domain":[-0.93176,0.93176],"nice":false,"zero":false},"axis":null},"x2":{"datum":0.02}}},
{"data":{"name":"compass"},"transform":[{"calculate":"0.785*sin(datum.dir*PI/180)","as":"xa"},{"calculate":"0.785*cos(datum.dir*PI/180)","as":"ya"},{"calculate":"0.8*sin(datum.dir*PI/180)","as":"xb"},{"calculate":"0.8*cos(datum.dir*PI/180)","as":"yb"}],"mark":{"type":"rule","stroke":"#555555","strokeWidth":1},"encoding":{"x":{"field":"xa","type":"quantitative","scale":{"domain":[-0.93176,0.93176],"nice":false,"zero":false},"axis":null},"y":{"field":"ya","type":"quantitative","scale":{"domain":[-0.93176,0.93176],"nice":false,"zero":false},"axis":null},"x2":{"field":"xb"},"y2":{"field":"yb"}}},
{"data":{"name":"rose"},"transform":[{"filter":"datum.source==='Diesel Emission' && datum.site==='Jackson St.'"},{"calculate":"datum.value*sin(datum.dir*PI/180)","as":"x"},{"calculate":"datum.value*cos(datum.dir*PI/180)","as":"y"}],"mark":{"type":"line","interpolate":"linear-closed","fill":"#c0c0c0","stroke":"#c0c0c0","strokeWidth":0.5},"encoding":{"x":{"field":"x","type":"quantitative","scale":{"domain":[-0.93176,0.93176],"nice":false,"zero":false},"axis":null},"y":{"field":"y","type":"quantitative","scale":{"domain":[-0.93176,0.93176],"nice":false,"zero":false},"axis":null},"order":{"field":"dir","type":"quantitative"}}},
{"data":{"name":"rings"},"mark":{"type":"text","font":"Liberation Serif","fontSize":16,"dy":-12,"baseline":"alphabetic","align":"center","color":"#111111"},"encoding":{"x":{"field":"r","type":"quantitative","scale":{"domain":[-0.93176,0.93176],"nice":false,"zero":false},"axis":null},"y":{"datum":0,"type":"quantitative","scale":{"domain":[-0.93176,0.93176],"nice":false,"zero":false},"axis":null},"text":{"field":"t"}}},
{"data":{"name":"rose"},"transform":[{"filter":"datum.source==='Diesel Emission' && datum.site==='Jackson St.'"},{"calculate":"datum.value*sin(datum.dir*PI/180)","as":"x"},{"calculate":"datum.value*cos(datum.dir*PI/180)","as":"y"}],"mark":{"type":"line","interpolate":"linear-closed","strokeWidth":3},"encoding":{"x":{"field":"x","type":"quantitative","scale":{"domain":[-0.93176,0.93176],"nice":false,"zero":false},"axis":null},"y":{"field":"y","type":"quantitative","scale":{"domain":[-0.93176,0.93176],"nice":false,"zero":false},"axis":null},"order":{"field":"dir","type":"quantitative"},"color":{"field":"site","type":"nominal","title":null,"scale":{"domain":["4th St.","Jackson St."],"range":["#000000","#808080"]},"legend":{"orient":"none","legendX":451,"legendY":1320,"direction":"horizontal","symbolType":"stroke","symbolSize":5625,"symbolStrokeWidth":3,"labelFont":"Liberation Serif","labelFontSize":33,"labelFontWeight":"bold","labelColor":"#000000","labelOffset":15,"columnPadding":27,"padding":0,"labelLimit":400}}}},
{"data":{"name":"rose"},"transform":[{"filter":"datum.source==='Diesel Emission' && datum.site==='4th St.'"},{"calculate":"datum.value*sin(datum.dir*PI/180)","as":"x"},{"calculate":"datum.value*cos(datum.dir*PI/180)","as":"y"}],"mark":{"type":"line","interpolate":"linear-closed","strokeWidth":3},"encoding":{"x":{"field":"x","type":"quantitative","scale":{"domain":[-0.93176,0.93176],"nice":false,"zero":false},"axis":null},"y":{"field":"y","type":"quantitative","scale":{"domain":[-0.93176,0.93176],"nice":false,"zero":false},"axis":null},"order":{"field":"dir","type":"quantitative"},"color":{"field":"site","type":"nominal","title":null,"scale":{"domain":["4th St.","Jackson St."],"range":["#000000","#808080"]},"legend":{"orient":"none","legendX":451,"legendY":1320,"direction":"horizontal","symbolType":"stroke","symbolSize":5625,"symbolStrokeWidth":3,"labelFont":"Liberation Serif","labelFontSize":33,"labelFontWeight":"bold","labelColor":"#000000","labelOffset":15,"columnPadding":27,"padding":0,"labelLimit":400}}}},
{"data":{"name":"compass"},"transform":[{"filter":"datum.dir==0||datum.dir==180"},{"calculate":"datum.dir==0?0.894:0.905","as":"rr"},{"calculate":"datum.rr*sin(datum.dir*PI/180)","as":"x"},{"calculate":"datum.rr*cos(datum.dir*PI/180)","as":"y"}],"mark":{"type":"text","font":"Liberation Serif","fontSize":19,"baseline":"middle","align":"center","color":"#000000"},"encoding":{"x":{"field":"x","type":"quantitative","scale":{"domain":[-0.93176,0.93176],"nice":false,"zero":false},"axis":null},"y":{"field":"y","type":"quantitative","scale":{"domain":[-0.93176,0.93176],"nice":false,"zero":false},"axis":null},"text":{"field":"label"}}},
{"data":{"name":"compass"},"transform":[{"filter":"datum.dir>0&&datum.dir<180"},{"calculate":"(datum.dir==30||datum.dir==330)?0.843:((datum.dir==150||datum.dir==210)?0.868:0.857)","as":"rr"},{"calculate":"datum.dir%180==30?datum.dir-6.3:(datum.dir%180==150?datum.dir+6.3:datum.dir)","as":"aa"},{"calculate":"datum.rr*sin(datum.aa*PI/180)","as":"x"},{"calculate":"datum.rr*cos(datum.aa*PI/180)","as":"y"}],"mark":{"type":"text","font":"Liberation Serif","fontSize":19,"baseline":"middle","align":"left","color":"#000000"},"encoding":{"x":{"field":"x","type":"quantitative","scale":{"domain":[-0.93176,0.93176],"nice":false,"zero":false},"axis":null},"y":{"field":"y","type":"quantitative","scale":{"domain":[-0.93176,0.93176],"nice":false,"zero":false},"axis":null},"text":{"field":"label"}}},
{"data":{"name":"compass"},"transform":[{"filter":"datum.dir>180"},{"calculate":"(datum.dir==30||datum.dir==330)?0.843:((datum.dir==150||datum.dir==210)?0.868:0.857)","as":"rr"},{"calculate":"datum.dir%180==30?datum.dir-6.3:(datum.dir%180==150?datum.dir+6.3:datum.dir)","as":"aa"},{"calculate":"datum.rr*sin(datum.aa*PI/180)","as":"x"},{"calculate":"datum.rr*cos(datum.aa*PI/180)","as":"y"}],"mark":{"type":"text","font":"Liberation Serif","fontSize":19,"baseline":"middle","align":"right","color":"#000000"},"encoding":{"x":{"field":"x","type":"quantitative","scale":{"domain":[-0.93176,0.93176],"nice":false,"zero":false},"axis":null},"y":{"field":"y","type":"quantitative","scale":{"domain":[-0.93176,0.93176],"nice":false,"zero":false},"axis":null},"text":{"field":"label"}}}
]},
{"title":"Ni-Related Industrial","width":396,"height":396,"layer":[
{"data":{"values":[{"c":0}]},"mark":{"type":"point","shape":"circle","size":115600,"filled":false,"stroke":"#555555","strokeWidth":1,"opacity":1},"encoding":{"x":{"field":"c","type":"quantitative","scale":{"domain":[-0.93176,0.93176],"nice":false,"zero":false},"axis":null},"y":{"field":"c","type":"quantitative","scale":{"domain":[-0.93176,0.93176],"nice":false,"zero":false},"axis":null}}},
{"data":{"values":[{"a":-0.8,"b":0.8,"c":0}]},"mark":{"type":"rule","stroke":"#8c8c8c","strokeWidth":1.3},"encoding":{"x":{"field":"a","type":"quantitative","scale":{"domain":[-0.93176,0.93176],"nice":false,"zero":false},"axis":null},"x2":{"field":"b"},"y":{"field":"c","type":"quantitative","scale":{"domain":[-0.93176,0.93176],"nice":false,"zero":false},"axis":null}}},
{"data":{"values":[{"a":-0.8,"b":0.8,"c":0}]},"mark":{"type":"rule","stroke":"#8c8c8c","strokeWidth":1.3},"encoding":{"y":{"field":"a","type":"quantitative","scale":{"domain":[-0.93176,0.93176],"nice":false,"zero":false},"axis":null},"y2":{"field":"b"},"x":{"field":"c","type":"quantitative","scale":{"domain":[-0.93176,0.93176],"nice":false,"zero":false},"axis":null}}},
{"data":{"name":"ticks"},"mark":{"type":"rule","stroke":"#8c8c8c","strokeWidth":1},"encoding":{"x":{"field":"r","type":"quantitative","scale":{"domain":[-0.93176,0.93176],"nice":false,"zero":false},"axis":null},"y":{"datum":0,"type":"quantitative","scale":{"domain":[-0.93176,0.93176],"nice":false,"zero":false},"axis":null},"y2":{"datum":-0.02}}},
{"data":{"name":"ticks"},"mark":{"type":"rule","stroke":"#8c8c8c","strokeWidth":1},"encoding":{"y":{"field":"r","type":"quantitative","scale":{"domain":[-0.93176,0.93176],"nice":false,"zero":false},"axis":null},"x":{"datum":0,"type":"quantitative","scale":{"domain":[-0.93176,0.93176],"nice":false,"zero":false},"axis":null},"x2":{"datum":0.02}}},
{"data":{"name":"compass"},"transform":[{"calculate":"0.785*sin(datum.dir*PI/180)","as":"xa"},{"calculate":"0.785*cos(datum.dir*PI/180)","as":"ya"},{"calculate":"0.8*sin(datum.dir*PI/180)","as":"xb"},{"calculate":"0.8*cos(datum.dir*PI/180)","as":"yb"}],"mark":{"type":"rule","stroke":"#555555","strokeWidth":1},"encoding":{"x":{"field":"xa","type":"quantitative","scale":{"domain":[-0.93176,0.93176],"nice":false,"zero":false},"axis":null},"y":{"field":"ya","type":"quantitative","scale":{"domain":[-0.93176,0.93176],"nice":false,"zero":false},"axis":null},"x2":{"field":"xb"},"y2":{"field":"yb"}}},
{"data":{"name":"rose"},"transform":[{"filter":"datum.source==='Ni-Related Industrial' && datum.site==='Jackson St.'"},{"calculate":"datum.value*sin(datum.dir*PI/180)","as":"x"},{"calculate":"datum.value*cos(datum.dir*PI/180)","as":"y"}],"mark":{"type":"line","interpolate":"linear-closed","fill":"#c0c0c0","stroke":"#c0c0c0","strokeWidth":0.5},"encoding":{"x":{"field":"x","type":"quantitative","scale":{"domain":[-0.93176,0.93176],"nice":false,"zero":false},"axis":null},"y":{"field":"y","type":"quantitative","scale":{"domain":[-0.93176,0.93176],"nice":false,"zero":false},"axis":null},"order":{"field":"dir","type":"quantitative"}}},
{"data":{"name":"rings"},"mark":{"type":"text","font":"Liberation Serif","fontSize":16,"dy":-12,"baseline":"alphabetic","align":"center","color":"#111111"},"encoding":{"x":{"field":"r","type":"quantitative","scale":{"domain":[-0.93176,0.93176],"nice":false,"zero":false},"axis":null},"y":{"datum":0,"type":"quantitative","scale":{"domain":[-0.93176,0.93176],"nice":false,"zero":false},"axis":null},"text":{"field":"t"}}},
{"data":{"name":"rose"},"transform":[{"filter":"datum.source==='Ni-Related Industrial' && datum.site==='Jackson St.'"},{"calculate":"datum.value*sin(datum.dir*PI/180)","as":"x"},{"calculate":"datum.value*cos(datum.dir*PI/180)","as":"y"}],"mark":{"type":"line","interpolate":"linear-closed","strokeWidth":3},"encoding":{"x":{"field":"x","type":"quantitative","scale":{"domain":[-0.93176,0.93176],"nice":false,"zero":false},"axis":null},"y":{"field":"y","type":"quantitative","scale":{"domain":[-0.93176,0.93176],"nice":false,"zero":false},"axis":null},"order":{"field":"dir","type":"quantitative"},"color":{"field":"site","type":"nominal","title":null,"scale":{"domain":["4th St.","Jackson St."],"range":["#000000","#808080"]},"legend":{"orient":"none","legendX":451,"legendY":1320,"direction":"horizontal","symbolType":"stroke","symbolSize":5625,"symbolStrokeWidth":3,"labelFont":"Liberation Serif","labelFontSize":33,"labelFontWeight":"bold","labelColor":"#000000","labelOffset":15,"columnPadding":27,"padding":0,"labelLimit":400}}}},
{"data":{"name":"rose"},"transform":[{"filter":"datum.source==='Ni-Related Industrial' && datum.site==='4th St.'"},{"calculate":"datum.value*sin(datum.dir*PI/180)","as":"x"},{"calculate":"datum.value*cos(datum.dir*PI/180)","as":"y"}],"mark":{"type":"line","interpolate":"linear-closed","strokeWidth":3},"encoding":{"x":{"field":"x","type":"quantitative","scale":{"domain":[-0.93176,0.93176],"nice":false,"zero":false},"axis":null},"y":{"field":"y","type":"quantitative","scale":{"domain":[-0.93176,0.93176],"nice":false,"zero":false},"axis":null},"order":{"field":"dir","type":"quantitative"},"color":{"field":"site","type":"nominal","title":null,"scale":{"domain":["4th St.","Jackson St."],"range":["#000000","#808080"]},"legend":{"orient":"none","legendX":451,"legendY":1320,"direction":"horizontal","symbolType":"stroke","symbolSize":5625,"symbolStrokeWidth":3,"labelFont":"Liberation Serif","labelFontSize":33,"labelFontWeight":"bold","labelColor":"#000000","labelOffset":15,"columnPadding":27,"padding":0,"labelLimit":400}}}},
{"data":{"name":"compass"},"transform":[{"filter":"datum.dir==0||datum.dir==180"},{"calculate":"datum.dir==0?0.894:0.905","as":"rr"},{"calculate":"datum.rr*sin(datum.dir*PI/180)","as":"x"},{"calculate":"datum.rr*cos(datum.dir*PI/180)","as":"y"}],"mark":{"type":"text","font":"Liberation Serif","fontSize":19,"baseline":"middle","align":"center","color":"#000000"},"encoding":{"x":{"field":"x","type":"quantitative","scale":{"domain":[-0.93176,0.93176],"nice":false,"zero":false},"axis":null},"y":{"field":"y","type":"quantitative","scale":{"domain":[-0.93176,0.93176],"nice":false,"zero":false},"axis":null},"text":{"field":"label"}}},
{"data":{"name":"compass"},"transform":[{"filter":"datum.dir>0&&datum.dir<180"},{"calculate":"(datum.dir==30||datum.dir==330)?0.843:((datum.dir==150||datum.dir==210)?0.868:0.857)","as":"rr"},{"calculate":"datum.dir%180==30?datum.dir-6.3:(datum.dir%180==150?datum.dir+6.3:datum.dir)","as":"aa"},{"calculate":"datum.rr*sin(datum.aa*PI/180)","as":"x"},{"calculate":"datum.rr*cos(datum.aa*PI/180)","as":"y"}],"mark":{"type":"text","font":"Liberation Serif","fontSize":19,"baseline":"middle","align":"left","color":"#000000"},"encoding":{"x":{"field":"x","type":"quantitative","scale":{"domain":[-0.93176,0.93176],"nice":false,"zero":false},"axis":null},"y":{"field":"y","type":"quantitative","scale":{"domain":[-0.93176,0.93176],"nice":false,"zero":false},"axis":null},"text":{"field":"label"}}},
{"data":{"name":"compass"},"transform":[{"filter":"datum.dir>180"},{"calculate":"(datum.dir==30||datum.dir==330)?0.843:((datum.dir==150||datum.dir==210)?0.868:0.857)","as":"rr"},{"calculate":"datum.dir%180==30?datum.dir-6.3:(datum.dir%180==150?datum.dir+6.3:datum.dir)","as":"aa"},{"calculate":"datum.rr*sin(datum.aa*PI/180)","as":"x"},{"calculate":"datum.rr*cos(datum.aa*PI/180)","as":"y"}],"mark":{"type":"text","font":"Liberation Serif","fontSize":19,"baseline":"middle","align":"right","color":"#000000"},"encoding":{"x":{"field":"x","type":"quantitative","scale":{"domain":[-0.93176,0.93176],"nice":false,"zero":false},"axis":null},"y":{"field":"y","type":"quantitative","scale":{"domain":[-0.93176,0.93176],"nice":false,"zero":false},"axis":null},"text":{"field":"label"}}}
]}
]
}
